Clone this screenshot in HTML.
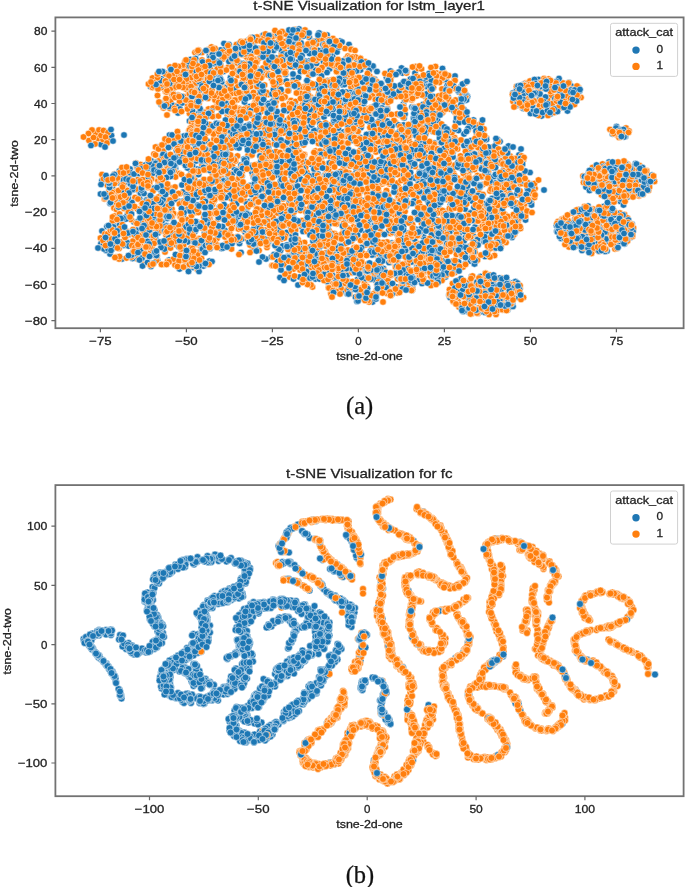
<!DOCTYPE html>
<html><head><meta charset="utf-8"><title>t-SNE</title>
<style>
html,body{margin:0;padding:0;background:#fff}
svg{display:block}
text{font-family:"Liberation Sans",sans-serif;fill:#222;stroke:#222;stroke-width:.3px}
.tk{font-size:11.8px}
.lb{font-size:11.8px}
.tt{font-size:13.6px}
.cap{font-family:"Liberation Serif",serif;font-size:24.5px;fill:#111;stroke:#111;stroke-width:.25px}
polyline{fill:none;stroke:none}
.b{marker-start:url(#mb);marker-mid:url(#mb);marker-end:url(#mb)}
.o{marker-start:url(#mo);marker-mid:url(#mo);marker-end:url(#mo)}
.p{marker-start:url(#nb);marker-mid:url(#nb);marker-end:url(#nb)}
.q{marker-start:url(#no);marker-mid:url(#no);marker-end:url(#no)}
</style></head><body>
<svg width="685" height="887" viewBox="0 0 685 887">
<defs>
<filter id="bl" x="0" y="0" width="685" height="887" filterUnits="userSpaceOnUse"><feGaussianBlur stdDeviation="0.4"/></filter>
<filter id="nf" x="0" y="0" width="685" height="887" filterUnits="userSpaceOnUse"><feOffset dx="0" dy="0"/></filter>
<marker id="mb" markerUnits="userSpaceOnUse" markerWidth="20" markerHeight="20" refX="10" refY="10"><circle cx="10" cy="10" r="6.65" fill="#1f77b4" stroke="#fff" stroke-width="1.1"/></marker>
<marker id="mo" markerUnits="userSpaceOnUse" markerWidth="20" markerHeight="20" refX="10" refY="10"><circle cx="10" cy="10" r="6.65" fill="#ff7f0e" stroke="#fff" stroke-width="1.1"/></marker>
<marker id="nb" markerUnits="userSpaceOnUse" markerWidth="20" markerHeight="20" refX="10" refY="10"><circle cx="10" cy="10" r="6.9" fill="#1f77b4" stroke="#fff" stroke-width="1.0"/></marker>
<marker id="no" markerUnits="userSpaceOnUse" markerWidth="20" markerHeight="20" refX="10" refY="10"><circle cx="10" cy="10" r="6.9" fill="#ff7f0e" stroke="#fff" stroke-width="1.0"/></marker>
<clipPath id="c1"><rect x="55.4" y="17.4" width="628.2" height="310.8"/></clipPath>
<clipPath id="c2"><rect x="55.4" y="485.1" width="628.2" height="311.1"/></clipPath>
</defs>
<rect width="685" height="887" fill="#fff"/>
<g clip-path="url(#c1)" filter="url(#bl)"><g transform="scale(.5)">
<polyline class="b" points="1037,595 500,371 805,146 596,124 390,125"/>
<polyline class="o" points="826,524 584,509 484,345 463,296 417,218"/>
<polyline class="o" points="937,427 659,312 823,200"/>
<polyline class="b" points="386,535 816,565 745,322 452,303 891,554 781,161 659,138"/>
<polyline class="b" points="1225,268 315,521 784,486 301,173 932,296 571,149"/>
<polyline class="o" points="342,198 953,266 779,368 642,212"/>
<polyline class="o" points="862,564 340,217 765,511 749,380 331,183"/>
<polyline class="b" points="276,362 583,352 713,118 1101,228 912,495"/>
<polyline class="b" points="1241,403 898,590 379,242 479,136 395,394 879,258 819,272 698,89"/>
<polyline class="o" points="620,175 672,562"/>
<polyline class="o" points="704,546 462,397 413,305 609,419 530,145"/>
<polyline class="b" points="1018,457 391,292 367,432 338,520 202,289"/>
<polyline class="b" points="629,261 549,339 326,207 526,278"/>
<polyline class="o" points="509,84 404,105 780,525 889,463 838,346 977,342"/>
<polyline class="o" points="270,395 808,493 1010,429 985,469 518,501 1084,176 384,531"/>
<polyline class="b" points="524,151 1134,167 970,513"/>
<polyline class="b" points="918,184 443,497 554,442"/>
<polyline class="o" points="566,530 489,402 1235,391 443,356 368,327 729,566 974,364"/>
<polyline class="o" points="597,266 1220,399 1162,195 1167,354 443,346 784,546"/>
<polyline class="b" points="674,104 1007,341 639,260 831,458"/>
<polyline class="b" points="915,437 935,193 849,313"/>
<polyline class="o" points="438,247 718,559 635,240 509,409 614,345 893,550 245,468"/>
<polyline class="o" points="1021,437 462,125 620,415 647,98 587,538"/>
<polyline class="b" points="806,511 628,261 813,369 807,208 559,441"/>
<polyline class="b" points="524,138 319,378 725,401 257,470 533,419 314,294"/>
<polyline class="o" points="735,268 708,495 1008,366 733,548"/>
<polyline class="o" points="344,418 665,568"/>
<polyline class="b" points="1086,229 368,367 767,537 821,540 888,353 818,574 524,271 261,419"/>
<polyline class="b" points="793,574 537,484 778,525 1214,502"/>
<polyline class="o" points="533,274 1096,231 349,219 692,117 721,481 957,616"/>
<polyline class="o" points="956,627 667,234 850,193 731,490 877,410 884,161 1220,259"/>
<polyline class="b" points="874,457 426,233 600,214"/>
<polyline class="b" points="330,146 636,348 1035,459 967,407 683,201 818,466"/>
<polyline class="o" points="375,384 696,112 747,552 332,488"/>
<polyline class="o" points="833,261 579,554 432,129 476,151 526,136"/>
<polyline class="b" points="268,444 346,216 1242,398 688,209 1144,446"/>
<polyline class="b" points="654,145 489,168 667,394 571,222 247,491"/>
<polyline class="o" points="299,320 1003,556 774,587 1249,367 953,522"/>
<polyline class="o" points="441,328 917,322 812,163 787,581 662,585 861,452"/>
<polyline class="b" points="830,146 460,322 364,370 894,172"/>
<polyline class="b" points="461,274 918,468 671,491 723,495"/>
<polyline class="o" points="856,403 501,173 510,205 619,374 382,496 818,282"/>
<polyline class="o" points="1246,369 776,388 506,500 955,351 1013,383"/>
<polyline class="b" points="1009,372 239,366 447,143 393,383 532,518"/>
<polyline class="b" points="855,457 781,401"/>
<polyline class="o" points="789,430 714,286 667,287 629,269 599,176 899,218 702,98 410,224"/>
<polyline class="o" points="563,108 332,199 281,491 390,105 269,375 598,302"/>
<polyline class="b" points="930,201 631,558 356,226 347,400"/>
<polyline class="b" points="375,418 917,524 819,363"/>
<polyline class="o" points="1157,175 909,160 781,521 372,178 465,332 341,203 662,477"/>
<polyline class="o" points="586,150 238,497 937,351"/>
<polyline class="b" points="933,191 834,269 756,337 808,236 749,492 549,348 912,243"/>
<polyline class="b" points="921,198 910,152 334,335"/>
<polyline class="o" points="562,430 479,217 593,300 234,394 718,447 565,139 789,378"/>
<polyline class="o" points="636,216 871,133 339,375 567,266 455,231"/>
<polyline class="b" points="547,376 385,285 500,430 1019,376 665,574"/>
<polyline class="b" points="595,105 1249,488 451,98 890,423"/>
<polyline class="o" points="473,339 376,439 353,490 379,227 930,166 420,437"/>
<polyline class="o" points="905,308 790,424 536,285 1029,441 284,407 1003,322 717,411 690,97 350,530 234,362"/>
<polyline class="b" points="204,462 389,172 1025,566"/>
<polyline class="o" points="1026,203 674,144 416,386 579,284 862,461 1255,328 657,279"/>
<polyline class="o" points="1309,363 1167,365 1018,408 896,310 178,281 722,138 395,489 717,117 537,290"/>
<polyline class="b" points="749,259 749,259"/>
<polyline class="b" points="746,134 204,361 940,492 711,594"/>
<polyline class="o" points="474,110 496,311 1045,216 673,178 779,273 618,560"/>
<polyline class="o" points="1252,256 366,417 1063,405 430,397 835,359"/>
<polyline class="b" points="1000,357 866,473 351,337 639,558 854,194"/>
<polyline class="b" points="588,252 847,474 640,158 879,485 847,545"/>
<polyline class="o" points="725,134 988,457 287,529 609,309 656,216"/>
<polyline class="o" points="1230,498 795,431 428,402 621,194 734,308 796,472"/>
<polyline class="b" points="390,352 913,236 718,448 736,350"/>
<polyline class="b" points="420,497 420,497"/>
<polyline class="o" points="956,375 534,495 1016,448 784,181 603,187 622,535 947,461 877,482 941,341"/>
<polyline class="o" points="781,467 621,144 949,498 609,485 972,578"/>
<polyline class="b" points="584,469 851,164 264,405 821,158 535,134"/>
<polyline class="b" points="500,213 443,162 473,220 482,330"/>
<polyline class="o" points="505,348 315,149 831,133 834,274 418,436 360,433"/>
<polyline class="o" points="1033,179 1046,350 450,265 512,391"/>
<polyline class="b" points="671,565 750,560 1159,182 1217,483 279,397 1026,186"/>
<polyline class="b" points="402,194 900,595 500,403 773,155 474,341 574,285 823,524 877,383"/>
<polyline class="o" points="665,574 861,552"/>
<polyline class="o" points="468,211 476,360 401,492"/>
<polyline class="b" points="961,553 687,264 818,476 543,514 1150,453 1264,448 511,498"/>
<polyline class="b" points="922,173 692,202 846,209 1015,620"/>
<polyline class="o" points="398,346 537,189 651,204 966,369 473,343 511,133"/>
<polyline class="o" points="569,390 607,495 776,433 563,164 907,347 775,217"/>
<polyline class="b" points="1135,222 431,102 220,407 537,297"/>
<polyline class="b" points="1038,310 650,350 948,473"/>
<polyline class="o" points="662,588 475,473 408,435 616,560 335,523 692,273 484,376"/>
<polyline class="o" points="801,560 201,476 851,301 590,59 604,412"/>
<polyline class="b" points="509,287 490,464 754,527 590,212 239,342"/>
<polyline class="b" points="921,336 643,324 683,212"/>
<polyline class="o" points="221,277 916,431 485,459 1070,377 954,476 887,144 915,356"/>
<polyline class="o" points="1040,577 625,574 619,76 552,414"/>
<polyline class="b" points="600,512 673,363 735,528 768,191 733,357 1077,159"/>
<polyline class="b" points="621,328 866,193 574,241 350,329"/>
<polyline class="o" points="425,409 299,465 249,377 669,467 356,190 406,398"/>
<polyline class="o" points="523,398 260,351 457,166 1026,366 1124,438 841,389"/>
<polyline class="b" points="672,554 1261,475 273,466 695,588"/>
<polyline class="b" points="676,315 596,570 1172,374 1194,359 933,200 382,346"/>
<polyline class="o" points="725,506 764,368 655,161 566,493"/>
<polyline class="o" points="831,483 795,558 736,172 619,551 653,183 862,571 1045,329 389,360 830,333"/>
<polyline class="b" points="311,477 311,477"/>
<polyline class="b" points="1083,232 908,433 451,315"/>
<polyline class="o" points="1036,390 911,501 796,371 886,224 636,192 359,347 228,416"/>
<polyline class="o" points="1034,338 443,135 923,478 408,359 305,156 475,312"/>
<polyline class="b" points="257,464 470,178 920,369 317,441"/>
<polyline class="b" points="853,315 613,101 702,579"/>
<polyline class="o" points="374,138 835,317 568,246 1015,299 686,339 884,226 879,419"/>
<polyline class="o" points="880,474 927,347 272,326 210,468 768,365"/>
<polyline class="b" points="838,470 633,379 220,508 448,87 603,453"/>
<polyline class="b" points="633,234 664,549 1011,315 686,170"/>
<polyline class="o" points="906,522 576,259 857,156 417,232 582,201 805,213"/>
<polyline class="o" points="626,243 802,572 658,461 476,171 434,207"/>
<polyline class="b" points="494,408 853,188 888,544 908,396 814,409"/>
<polyline class="b" points="411,403 850,479 691,440 375,336 694,550"/>
<polyline class="o" points="664,446 458,332 1126,166 665,467 340,134"/>
<polyline class="o" points="578,543 460,386 682,218 718,396"/>
<polyline class="b" points="829,478 510,131 592,507 504,344 226,450 1077,166"/>
<polyline class="b" points="1017,616 637,145 507,354 505,374 633,127 259,465"/>
<polyline class="o" points="774,197 426,216 548,385 989,497"/>
<polyline class="o" points="333,200 854,501 218,382 796,525 1012,485 586,509"/>
<polyline class="b" points="696,221 1304,350 749,450 718,583"/>
<polyline class="b" points="985,449 1013,335 366,384 359,403 689,169 499,249 423,298"/>
<polyline class="o" points="1166,352 440,146 261,418"/>
<polyline class="o" points="910,225 917,560 424,405 537,147 702,99"/>
<polyline class="b" points="1114,462 620,529 400,180 381,119 605,92"/>
<polyline class="b" points="641,142 745,604 662,297 822,323 803,136 894,546"/>
<polyline class="o" points="337,400 633,88 276,398 362,405"/>
<polyline class="o" points="217,387 632,139 579,236 898,372 566,398 388,168 1116,443 822,198 1258,262 909,360"/>
<polyline class="b" points="239,450 896,167 844,567"/>
<polyline class="o" points="702,174 1048,414 786,146 475,122 524,72 557,169 955,477"/>
<polyline class="o" points="309,456 1033,351 502,311 383,244"/>
<polyline class="b" points="714,413 752,598 1198,448 619,196 1169,353 461,161"/>
<polyline class="b" points="285,532 620,556"/>
<polyline class="o" points="919,460 925,172 383,431 960,456 760,267 1051,166 321,319 673,446"/>
<polyline class="o" points="814,143 642,140 788,418 887,431 704,442 570,450 930,358 798,337"/>
<polyline class="b" points="419,522 356,192"/>
<polyline class="b" points="1164,501 623,96"/>
<polyline class="o" points="962,302 881,449 603,213 234,407 658,186 425,348 865,144 959,386"/>
<polyline class="o" points="930,586 465,452 554,426 692,539 444,118 845,265 671,127 782,551"/>
<polyline class="b" points="354,319 944,402"/>
<polyline class="b" points="749,440 385,222"/>
<polyline class="o" points="813,525 791,534 980,382 504,310 916,603 691,487 510,104 823,503"/>
<polyline class="o" points="620,404 1067,185 233,475 901,265 257,414"/>
<polyline class="b" points="424,161 638,502 1047,188 554,131 606,463"/>
<polyline class="b" points="635,499 637,101 792,315 696,119"/>
<polyline class="o" points="1240,426 800,319 748,510 512,285 838,212 1026,393"/>
<polyline class="o" points="1166,496 439,324 385,482 367,408"/>
<polyline class="b" points="824,214 456,93 832,271 1171,472 215,392 796,395"/>
<polyline class="b" points="1299,352 667,309 303,322 552,116"/>
<polyline class="o" points="559,505 392,425 344,189 618,151 546,404 1267,456"/>
<polyline class="o" points="741,319 750,198 913,509 726,342 494,477 775,202"/>
<polyline class="b" points="349,337 506,498 834,532 1054,167"/>
<polyline class="b" points="469,340 347,211 563,100 448,435 460,390 1060,345"/>
<polyline class="o" points="502,75 378,261 1236,459 774,484"/>
<polyline class="o" points="408,225 375,210 777,365 833,153 415,228 485,164 479,137"/>
<polyline class="b" points="375,330 514,292 1150,438"/>
<polyline class="b" points="906,314 573,162 748,508 399,365 789,172 680,269 1284,335"/>
<polyline class="o" points="415,415 889,331 885,206"/>
<polyline class="o" points="696,286 388,250 328,343 877,458 836,137 1017,442 671,413"/>
<polyline class="b" points="786,284 447,269 969,312"/>
<polyline class="b" points="509,254 317,365 455,287"/>
<polyline class="o" points="643,325 308,308 549,288 262,439 300,470 728,353 614,463"/>
<polyline class="o" points="563,232 546,435 820,567 1234,270 936,260 596,479 704,545"/>
<polyline class="b" points="368,272 479,487 328,306"/>
<polyline class="b" points="373,390 494,291 479,248 1271,327 419,110 398,226"/>
<polyline class="o" points="493,114 552,303 485,110 823,288"/>
<polyline class="o" points="445,118 537,301 506,492 695,410 771,555 404,330 712,500"/>
<polyline class="b" points="282,420 593,89 1034,387"/>
<polyline class="b" points="973,462 302,533"/>
<polyline class="o" points="628,99 915,489 223,381 1239,393 393,505 945,305 1040,211 740,559"/>
<polyline class="o" points="651,506 697,154 779,507 248,417"/>
<polyline class="b" points="1051,440 642,204 447,361 202,487 498,331 430,364"/>
<polyline class="b" points="467,401 663,315 440,156 1048,199 207,489 1077,200 507,85"/>
<polyline class="o" points="754,569 272,445 835,527"/>
<polyline class="o" points="672,134 700,332 578,407 457,134 474,200 797,395"/>
<polyline class="b" points="614,276 518,97 960,370 680,269"/>
<polyline class="b" points="937,397 489,458 443,165 593,81"/>
<polyline class="o" points="558,410 381,256 1034,208 336,333 737,232 962,397"/>
<polyline class="o" points="1205,456 1014,619 632,121 860,296"/>
<polyline class="b" points="993,430 295,525 407,532 383,410 678,157 850,170"/>
<polyline class="b" points="406,491 550,72 678,436 520,180 1025,608"/>
<polyline class="o" points="348,314 587,291 435,205 809,199 924,512"/>
<polyline class="o" points="372,452 708,512 885,421 637,479 758,320 1051,432"/>
<polyline class="b" points="244,518 575,222 656,270 1041,316"/>
<polyline class="b" points="999,309 1113,451 783,193 963,623 824,581 746,132"/>
<polyline class="o" points="765,192 295,466 385,354 910,161"/>
<polyline class="o" points="979,476 672,187 976,344 1215,451 670,408 385,390"/>
<polyline class="b" points="788,314 964,335 606,316 963,354"/>
<polyline class="b" points="624,374 798,144 316,466 441,130"/>
<polyline class="o" points="926,443 423,108 738,556 943,628 957,616 638,512"/>
<polyline class="o" points="1198,503 1237,381 536,110 1042,390 1279,331 898,183"/>
<polyline class="b" points="1177,348 968,413 553,86 1240,372"/>
<polyline class="b" points="892,456 225,373 805,528 599,489"/>
<polyline class="o" points="419,375 837,471 839,488 535,423 1043,312 892,493"/>
<polyline class="o" points="509,137 642,536 379,260 377,189 1185,335 554,172 209,398"/>
<polyline class="b" points="781,590 407,483 1172,477"/>
<polyline class="b" points="649,437 1038,318 336,354 618,122 450,461"/>
<polyline class="o" points="473,89 537,479 1198,372 312,164 549,71"/>
<polyline class="o" points="657,575 833,192 393,488 335,338 313,521 383,351 645,69 852,206"/>
<polyline class="b" points="420,116 345,451"/>
<polyline class="b" points="708,184 979,367 745,388 1061,403"/>
<polyline class="o" points="1077,179 296,375 892,321 542,131 1003,422 517,234"/>
<polyline class="o" points="275,418 477,371 636,79 196,277 356,153"/>
<polyline class="b" points="598,58 756,506 374,271 969,596 587,160"/>
<polyline class="b" points="680,355 978,454 881,371 976,350 626,105"/>
<polyline class="o" points="281,329 1168,494 776,561 266,504 848,487"/>
<polyline class="o" points="893,399 878,218 530,365 520,299 725,597 1109,201"/>
<polyline class="b" points="423,223 338,213 742,558 997,436"/>
<polyline class="b" points="217,474 1248,449 794,532 560,555 834,186"/>
<polyline class="o" points="775,221 584,166 809,198 734,573 450,262"/>
<polyline class="o" points="514,74 624,529 544,83 361,147 377,164 471,322 480,264"/>
<polyline class="b" points="898,428 595,174 694,581"/>
<polyline class="b" points="714,603 1233,253 778,461"/>
<polyline class="o" points="699,347 785,465 719,221 519,116 274,334 787,488 847,556"/>
<polyline class="o" points="600,540 744,457 1014,439 553,395 1297,381"/>
<polyline class="b" points="968,483 591,216 561,501 660,469 658,128"/>
<polyline class="b" points="740,268 246,374 835,438 400,288 539,340"/>
<polyline class="o" points="823,474 720,116 511,205 606,207 978,499"/>
<polyline class="o" points="861,319 572,419 791,245 752,372 554,495"/>
<polyline class="b" points="648,234 875,241 278,382 548,199 1202,369"/>
<polyline class="b" points="1013,450 955,479 825,576 689,331 749,158 504,331 860,333"/>
<polyline class="o" points="1299,374 518,273 570,259"/>
<polyline class="o" points="759,181 570,548 1019,568 1006,390 677,204 678,435 636,486 629,348"/>
<polyline class="b" points="575,513 821,324"/>
<polyline class="b" points="394,444 759,297 1217,390"/>
<polyline class="o" points="758,508 559,268 680,401 578,248 625,373 607,290 584,293"/>
<polyline class="o" points="1058,195 747,343 1165,429"/>
<polyline class="b" points="1247,410 906,304 1014,561 654,70 906,458 1118,157 1031,563"/>
<polyline class="b" points="794,467 754,179"/>
<polyline class="o" points="971,328 354,212 999,326 300,363 879,456 716,220 453,486 416,197"/>
<polyline class="o" points="375,376 1220,479 888,256 340,294 1051,368 962,353 628,175"/>
<polyline class="b" points="508,236 652,300 715,559"/>
<polyline class="b" points="665,113 737,375 733,269"/>
<polyline class="o" points="416,439 898,326 883,248 523,431 540,271 367,193 377,468"/>
<polyline class="o" points="1291,351 374,170 763,170 1019,360 323,175"/>
<polyline class="b" points="694,207 825,505 821,388 721,367 1063,368"/>
<polyline class="b" points="401,222 504,266 730,450"/>
<polyline class="o" points="787,150 1123,215 1138,494 395,539 317,394 1205,328 997,464"/>
<polyline class="o" points="777,570 457,114 229,367 704,440 558,377 509,118 662,554"/>
<polyline class="b" points="212,501 771,335 624,171"/>
<polyline class="b" points="547,101 901,409 1031,212"/>
<polyline class="o" points="463,270 720,592 786,447 1157,467 886,160 936,337 622,570"/>
<polyline class="o" points="614,94 906,336 257,469 492,216 579,207 1002,494"/>
<polyline class="b" points="787,489 736,230 1024,475 602,86"/>
<polyline class="b" points="760,239 594,290 281,386 616,498"/>
<polyline class="o" points="365,325 993,452 454,487 773,381 797,393 242,484"/>
<polyline class="o" points="897,296 191,266 710,101 785,507 502,336"/>
<polyline class="b" points="947,359 365,313 827,245 791,292 579,400"/>
<polyline class="b" points="1138,165 502,89 1252,327 307,397"/>
<polyline class="o" points="338,403 1047,319 899,590 628,326 311,310 990,384"/>
<polyline class="o" points="593,274 798,230 515,417 408,192 347,518 632,302 666,131 712,494"/>
<polyline class="b" points="1011,595 1028,569"/>
<polyline class="b" points="394,338 744,510 244,370 928,219 367,402"/>
<polyline class="o" points="436,438 950,569 678,544 822,491 830,181"/>
<polyline class="o" points="187,275 1097,158 910,330 1289,348 487,187"/>
<polyline class="b" points="830,313 514,220 638,66 502,102 802,230"/>
<polyline class="b" points="863,161 936,446 1008,575 1181,438"/>
<polyline class="o" points="910,545 996,310 404,120 488,195 821,186 949,571"/>
<polyline class="o" points="554,465 757,384 1293,341 1055,166 403,500"/>
<polyline class="b" points="532,221 512,423 1142,172 1207,366 288,387"/>
<polyline class="b" points="678,501 555,523 740,543"/>
<polyline class="o" points="451,280 1041,368 1165,442 653,341 591,203 345,182 766,604"/>
<polyline class="o" points="995,476 875,228"/>
<polyline class="b" points="1047,169 1257,448 584,86 1171,364 1017,601 1266,463 505,162 1142,211"/>
<polyline class="b" points="774,242 255,429 798,554 1046,204 214,453 435,123"/>
<polyline class="o" points="770,147 687,462 215,468 781,419"/>
<polyline class="o" points="548,333 800,179 750,430 250,351"/>
<polyline class="b" points="447,362 441,100 975,509 429,148 637,471 907,401"/>
<polyline class="b" points="364,429 412,190 575,221"/>
<polyline class="o" points="232,514 500,257 897,207 521,176 850,293 493,184 887,444"/>
<polyline class="o" points="1130,489 472,144 953,626 314,456 396,188 978,629 466,231 366,303"/>
<polyline class="b" points="1114,463 700,185"/>
<polyline class="b" points="687,553 931,475 785,567 722,255 244,382"/>
<polyline class="o" points="376,149 847,545 299,368 950,619 1142,178"/>
<polyline class="o" points="1242,369 915,446 856,370"/>
<polyline class="b" points="420,415 990,325 1270,359 397,105 260,338 1255,394 682,567"/>
<polyline class="b" points="812,399 685,286 712,346 414,443 1026,412"/>
<polyline class="o" points="584,364 398,206 522,420 629,534 915,298"/>
<polyline class="o" points="646,433 982,496 324,493 461,448 614,142 782,281"/>
<polyline class="b" points="1165,473 625,208 565,492 765,322"/>
<polyline class="b" points="1270,331 361,320 580,400"/>
<polyline class="o" points="623,204 374,476 369,406 486,153 742,182 833,395 398,477"/>
<polyline class="o" points="397,348 699,537 913,289 1231,391"/>
<polyline class="b" points="722,382 665,505 1122,477 635,317 1251,273 829,356"/>
<polyline class="b" points="750,501 305,347 780,287"/>
<polyline class="o" points="1170,462 305,175 526,216 1028,374 389,160 311,404 1175,496"/>
<polyline class="o" points="793,498 845,388 524,153 457,447 782,591 301,500 1020,312"/>
<polyline class="b" points="851,377 550,351 431,450"/>
<polyline class="b" points="828,402 738,423 399,232 769,326"/>
<polyline class="o" points="297,168 498,271 586,361 231,398 463,498 937,599"/>
<polyline class="o" points="682,273 786,404 827,312"/>
<polyline class="b" points="643,152 842,219 414,282 1207,333 963,338 611,324 1227,421"/>
<polyline class="b" points="919,240 716,602 789,336 521,109 969,479"/>
<polyline class="o" points="483,446 1005,426 482,196 535,435 623,453"/>
<polyline class="o" points="509,120 970,281 480,340 350,374 1083,165 437,364 695,513 332,197"/>
<polyline class="b" points="684,538 730,173"/>
<polyline class="b" points="584,298 324,444 740,245"/>
<polyline class="o" points="973,417 530,258 501,463 660,250 609,204 1230,368 396,194"/>
<polyline class="o" points="229,432 345,383 730,123 612,403 562,72"/>
<polyline class="b" points="591,259 475,384 1014,615 527,70 1139,450"/>
<polyline class="b" points="225,497 225,497"/>
<polyline class="o" points="599,305 761,302 400,503 862,354 797,385 461,347 556,268 1009,333 688,338"/>
<polyline class="o" points="535,442 443,436 325,394 543,157 950,485 817,577"/>
<polyline class="b" points="497,190 402,167 715,212 762,236"/>
<polyline class="b" points="943,553 736,402 1047,217 760,492 553,279 1186,360"/>
<polyline class="o" points="910,214 909,177 380,155 1007,445"/>
<polyline class="o" points="907,604 536,150 763,364 901,366 276,359 652,425 572,429 775,277"/>
<polyline class="b" points="537,361 483,478"/>
<polyline class="b" points="699,423 759,551 631,108"/>
<polyline class="o" points="651,351 516,190 792,380 857,446 1286,389 287,436 681,420"/>
<polyline class="o" points="684,285 524,338 1249,429 646,80 235,358"/>
<polyline class="b" points="568,561 259,486 1035,566 561,362 617,230"/>
<polyline class="b" points="853,245 983,486 432,357"/>
<polyline class="o" points="924,188 733,358 220,376 348,342 1136,441 721,300 399,303"/>
<polyline class="o" points="716,263 627,492 346,338 1139,199"/>
<polyline class="b" points="760,339 685,356 701,190 930,418 395,446 509,345"/>
<polyline class="b" points="837,533 837,533"/>
<polyline class="o" points="887,439 570,131 973,276 514,329 375,536 687,339 749,456 232,383 641,434"/>
<polyline class="o" points="198,496 362,535 839,466 706,303 877,192"/>
<polyline class="b" points="350,398 1218,408 871,237 421,258 677,125"/>
<polyline class="b" points="571,364 461,262 380,422 308,510 628,338 409,466"/>
<polyline class="o" points="551,241 275,518 285,471 713,248"/>
<polyline class="o" points="749,292 493,182 1065,381 912,607 471,142"/>
<polyline class="b" points="482,505 706,281 705,261 531,446 626,445"/>
<polyline class="b" points="1296,359 307,433 700,510 356,272"/>
<polyline class="o" points="330,504 697,506 563,478 874,342 805,570 204,349"/>
<polyline class="o" points="425,296 1016,389 969,555 651,492 734,387"/>
<polyline class="b" points="947,390 541,151 886,498 538,415 1045,328"/>
<polyline class="b" points="1040,210 544,204 456,350 754,586 954,564"/>
<polyline class="o" points="383,263 610,60 664,179 418,328 753,163"/>
<polyline class="o" points="616,204 233,419 895,461 316,361 362,149"/>
<polyline class="b" points="561,423 680,471 729,417 1179,381 291,330"/>
<polyline class="b" points="1234,427 266,380 1002,580 760,277 1238,259"/>
<polyline class="o" points="836,317 560,305 633,459 526,300 1022,461"/>
<polyline class="o" points="926,361 404,456 906,602 825,449 568,528 615,138"/>
<polyline class="b" points="587,436 591,440 674,497 544,393"/>
<polyline class="b" points="558,461 728,297 1183,376 590,110 937,624 984,397 588,443 751,246"/>
<polyline class="o" points="976,322 825,579"/>
<polyline class="o" points="694,580 953,250 527,391 788,500 855,201 761,526"/>
<polyline class="b" points="741,594 996,284 931,527 885,137"/>
<polyline class="o" points="830,426 962,559 1088,157 909,351 370,123 1182,447 968,258 655,286 860,545 765,467"/>
<polyline class="o" points="326,407 347,176 720,550 813,146 332,470"/>
<polyline class="b" points="628,147 520,312 442,369 558,498 687,314"/>
<polyline class="b" points="325,314 928,291 816,476 441,159 711,244 1234,455 493,417"/>
<polyline class="o" points="1033,173 825,310 1200,358"/>
<polyline class="o" points="966,389 635,495 295,443 781,441 753,443 280,444"/>
<polyline class="b" points="682,584 410,528 801,549 631,141"/>
<polyline class="b" points="573,465 375,393 993,282 528,477 861,255"/>
<polyline class="o" points="493,425 913,468 724,449 580,235 707,454"/>
<polyline class="o" points="419,249 356,307 903,407 599,486 737,217 752,583 409,260 587,134"/>
<polyline class="b" points="1058,207 410,439"/>
<polyline class="b" points="661,109 1178,343 294,483"/>
<polyline class="o" points="843,138 415,150 612,505 673,471 752,304 779,318 1033,201"/>
<polyline class="o" points="757,360 413,266 631,302 381,410 1180,368 409,457 830,162"/>
<polyline class="b" points="549,277 692,191 661,196"/>
<polyline class="b" points="930,390 1021,599 699,424"/>
<polyline class="o" points="533,185 673,448 567,211 206,279 728,407 184,260 960,312"/>
<polyline class="o" points="1175,428 911,200 345,346 363,448 800,399 608,380 1188,500 645,448"/>
<polyline class="b" points="882,342 646,89"/>
<polyline class="b" points="568,284 614,162"/>
<polyline class="o" points="342,176 686,147 674,254 1257,390 510,288 785,583 386,176 511,97"/>
<polyline class="o" points="241,406 703,482 1212,357 909,275 350,467 266,482 754,579 707,542 507,185"/>
<polyline class="b" points="500,112 500,112"/>
<polyline class="b" points="525,206 424,523 559,534 988,336 987,568 941,425"/>
<polyline class="o" points="1259,462 708,170 514,101 366,152"/>
<polyline class="o" points="648,486 604,450 608,496 884,178"/>
<polyline class="b" points="272,460 827,236 892,159 703,263 384,401 618,74"/>
<polyline class="b" points="1223,417 1209,442 480,229 918,485 812,413"/>
<polyline class="o" points="567,412 865,334 958,576 558,155 776,160"/>
<polyline class="o" points="576,80 905,567 242,354 403,517 508,235 633,373"/>
<polyline class="b" points="770,423 1061,227 406,526 726,182"/>
<polyline class="b" points="991,366 1196,382 445,314"/>
<polyline class="o" points="894,357 886,552 331,148 557,385 384,142 1206,441 875,396"/>
<polyline class="o" points="508,353 445,104 681,343 890,366 773,548"/>
<polyline class="b" points="721,140 485,331 658,262 508,489 658,448"/>
<polyline class="b" points="779,228 677,523 735,577"/>
<polyline class="o" points="607,309 486,256 840,155 324,290 746,421 1272,365 783,260"/>
<polyline class="o" points="347,168 682,576 472,400 408,229 1227,381"/>
<polyline class="b" points="398,543 784,252 746,411 799,426 946,578"/>
<polyline class="b" points="445,386 481,97 628,199 581,421 729,228"/>
<polyline class="o" points="634,230 206,481 732,165 939,564 846,562"/>
<polyline class="o" points="782,322 870,494 743,421 339,340"/>
<polyline class="b" points="836,354 1195,448 307,526 942,281 322,171 698,504"/>
<polyline class="b" points="875,440 510,355 586,107 769,248 835,224"/>
<polyline class="o" points="713,181 573,442 815,530 1077,231 1223,396"/>
<polyline class="o" points="207,358 414,368 430,142 552,203 1222,438 519,443 415,310"/>
<polyline class="b" points="863,470 735,132 647,123"/>
<polyline class="b" points="630,117 774,512 534,270 703,200"/>
<polyline class="o" points="758,388 868,204 816,469 858,355 303,358 915,286"/>
<polyline class="o" points="723,404 710,206 363,349 450,372 477,458 324,462 845,323"/>
<polyline class="b" points="634,519 398,532 1176,496"/>
<polyline class="b" points="375,484 201,388 247,360 1283,360 630,522 956,391 277,335"/>
<polyline class="o" points="918,614 679,413 640,168"/>
<polyline class="o" points="1047,595 1012,438 611,393 225,442 583,277 1209,457 291,510"/>
<polyline class="b" points="856,175 252,364 986,378"/>
<polyline class="b" points="585,429 372,529 681,491 835,409"/>
<polyline class="o" points="464,238 597,353 952,328 735,508 1027,569 783,152"/>
<polyline class="o" points="1060,162 1228,486 904,265 725,237 707,156"/>
<polyline class="b" points="323,158 699,191 935,288 382,214 814,258"/>
<polyline class="b" points="1036,172 928,482 812,142 884,550"/>
<polyline class="o" points="536,212 1156,194 1012,559 1007,375 904,440 634,403"/>
<polyline class="o" points="394,480 950,505 383,155 366,465 328,462 867,483"/>
<polyline class="b" points="1045,398 738,141 1000,283 1142,180"/>
<polyline class="b" points="969,421 784,355 770,272 957,622"/>
<polyline class="o" points="438,174 636,453 391,529 794,494 620,166 693,214"/>
<polyline class="o" points="502,113 383,266 541,326 604,441 257,424 420,264 933,408"/>
<polyline class="b" points="994,573 478,481 927,200"/>
<polyline class="b" points="1001,301 589,283 898,339 265,517 787,519 856,380"/>
<polyline class="o" points="1044,367 850,240 783,520 839,132"/>
<polyline class="o" points="435,137 517,254 310,406 911,476 347,427 394,486"/>
<polyline class="b" points="393,389 394,260 755,222 626,467"/>
<polyline class="b" points="368,425 1005,357 588,297"/>
<polyline class="o" points="893,497 637,287 450,474 738,604 859,477 572,298 957,254"/>
<polyline class="o" points="829,165 961,410 941,301 402,198 797,537 530,460 838,405 841,179 500,119"/>
<polyline class="b" points="855,341 855,341"/>
<polyline class="b" points="710,187 266,505 663,500 750,169"/>
<polyline class="o" points="823,581 989,511 601,421 455,254 314,512 597,447"/>
<polyline class="o" points="711,114 874,508 1038,184"/>
<polyline class="b" points="820,355 984,569 390,463 995,279 1087,174 888,297 855,173"/>
<polyline class="b" points="496,81 697,563 1229,363 1193,330 840,286 400,339 946,252"/>
<polyline class="o" points="638,186 305,453 297,371"/>
<polyline class="o" points="333,184 929,379 420,137 941,475 570,104 876,374"/>
<polyline class="b" points="856,401 405,407 405,287 333,451"/>
<polyline class="b" points="642,397 798,548 466,435 928,268 1025,595"/>
<polyline class="o" points="646,425 961,409 360,133 866,419 688,433"/>
<polyline class="o" points="550,212 371,154 1026,360 801,401 395,510 177,267 542,408"/>
<polyline class="b" points="945,339 729,539 731,557"/>
<polyline class="b" points="1075,169 760,559 873,152 1128,476 562,540 1113,163"/>
<polyline class="o" points="308,447 730,404 620,494 467,200"/>
<polyline class="o" points="458,229 410,277 731,542 781,160 928,594 780,512"/>
<polyline class="b" points="879,360 833,286 390,422 960,374"/>
<polyline class="b" points="941,522 611,122 762,550 841,463 960,297"/>
<polyline class="o" points="662,128 852,287 245,449 509,148 692,247"/>
<polyline class="o" points="696,500 1114,447 747,544 931,193 311,427 423,94 236,414"/>
<polyline class="b" points="612,124 433,246 927,493"/>
<polyline class="b" points="535,487 753,544 553,258 574,490 755,205 553,339"/>
<polyline class="o" points="387,375 532,324 779,170 740,255"/>
<polyline class="o" points="340,428 1134,204 304,497 1046,213 794,508 698,346 795,483"/>
<polyline class="b" points="907,403 593,271 810,228"/>
<polyline class="b" points="580,272 353,301 1026,613"/>
<polyline class="o" points="1157,419 382,413 509,241 588,424 874,465 567,83 707,240"/>
<polyline class="o" points="421,102 585,124 515,487 684,219 614,435"/>
<polyline class="b" points="688,163 1059,177 339,270 488,318 314,484"/>
<polyline class="b" points="306,407 602,216 990,313 704,502 503,389 450,175 1115,464 597,155"/>
<polyline class="o" points="290,497 264,512"/>
<polyline class="o" points="891,341 559,165 528,444 632,311 779,583 390,185 520,451"/>
<polyline class="b" points="347,189 364,302 879,464"/>
<polyline class="b" points="208,498 237,414 757,186 869,286"/>
<polyline class="o" points="1216,469 475,106 690,122 307,172 1174,438 468,290"/>
<polyline class="o" points="367,130 526,378 835,523 1030,317 1280,374 423,191"/>
<polyline class="b" points="380,400 657,227 1041,427 625,201"/>
<polyline class="b" points="1306,357 480,86 1001,386 291,429 544,188"/>
<polyline class="o" points="397,233 397,425 577,169 951,356 855,212"/>
<polyline class="o" points="190,288 459,290 350,455 518,190"/>
<polyline class="b" points="661,302 578,92 630,380 466,268 884,521 682,493"/>
<polyline class="b" points="1180,448 542,305 643,548 670,492"/>
<polyline class="o" points="481,219 327,396 845,326 1007,427 912,456 986,294"/>
<polyline class="o" points="699,588 741,477 963,246 358,490 899,579 456,414 472,120 1099,171"/>
<polyline class="b" points="471,269 679,411"/>
<polyline class="b" points="721,128 644,514 930,507 948,283 1176,412 468,318"/>
<polyline class="o" points="808,327 645,327 699,214 572,68"/>
<polyline class="o" points="336,384 480,476 796,450 573,89 374,175"/>
<polyline class="b" points="623,497 321,433 509,367 536,207 782,197"/>
<polyline class="b" points="756,412 1172,487 372,454 1223,448"/>
<polyline class="o" points="744,410 1168,484 334,181 1286,337 807,214 384,509"/>
<polyline class="o" points="748,284 848,386 1214,353 1023,407 528,318 553,276"/>
<polyline class="b" points="1210,503 781,142 1165,421 586,77"/>
<polyline class="b" points="566,108 1022,572 1033,412 313,511"/>
<polyline class="o" points="392,533 441,132 397,100 230,488 373,158 377,133"/>
<polyline class="o" points="474,379 765,299 944,463 340,400 819,271"/>
<polyline class="b" points="807,350 1067,220 351,315 619,107 390,298"/>
<polyline class="b" points="733,318 1070,202 1077,201"/>
<polyline class="o" points="921,506 1293,342 763,405 452,213 653,294 408,167 949,339"/>
<polyline class="o" points="418,529 639,280 460,226 685,413"/>
<polyline class="b" points="213,357 1104,215 567,196 1032,361 845,486 925,592"/>
<polyline class="b" points="464,428 837,368 1170,460 611,126 762,417 841,293 973,279"/>
<polyline class="o" points="1092,168 560,125 439,457"/>
<polyline class="o" points="640,302 718,389 677,534 873,146 957,569 317,322"/>
<polyline class="b" points="693,537 855,566 417,232 483,169"/>
<polyline class="b" points="607,537 857,509 596,442"/>
<polyline class="o" points="633,308 524,475 606,174 1252,484 475,274 1016,433 963,322"/>
<polyline class="o" points="718,537 874,151 970,348 554,276"/>
<polyline class="b" points="679,569 1236,384 594,393 1016,405 1269,333 1005,417"/>
<polyline class="b" points="657,108 585,356 652,451 706,401"/>
<polyline class="o" points="420,289 889,267 657,327 978,322 419,427 793,463"/>
<polyline class="o" points="690,461 598,89 1010,437 544,531 1278,392 500,490 558,419 406,479 708,400"/>
<polyline class="b" points="1064,374 1064,374"/>
<polyline class="b" points="553,96 1078,190 586,209 332,452 1081,173"/>
<polyline class="o" points="1025,189 635,528 1154,473 240,345 669,185"/>
<polyline class="o" points="587,270 687,330 1003,602 609,224 745,192 470,393 607,511"/>
<polyline class="b" points="929,402 739,235 844,505"/>
<polyline class="b" points="665,348 1219,367 854,173 1048,363 391,211 656,511 705,351"/>
<polyline class="o" points="327,216 658,521 999,468"/>
<polyline class="o" points="565,125 1089,170 922,508 706,412"/>
<polyline class="b" points="588,322 1235,443 1187,355 939,596 941,296 772,575"/>
<polyline class="b" points="790,373 448,409 839,384 1234,347 521,484 260,345"/>
<polyline class="o" points="522,156 1279,390 415,158 812,363"/>
<polyline class="o" points="736,601 1013,369 669,572 688,521 240,457 521,98 763,244"/>
<polyline class="b" points="458,123 1023,608 547,179"/>
<polyline class="b" points="397,349 529,464 877,409 483,369 227,454"/>
<polyline class="o" points="519,359 459,167 1033,196 440,271 705,276"/>
<polyline class="o" points="441,383 451,332 545,73 326,302"/>
<polyline class="b" points="235,470 1175,353 937,384 583,480 1012,355 437,435"/>
<polyline class="b" points="371,331 768,204 1247,259 311,325"/>
<polyline class="o" points="893,511 590,130 875,353 550,321 389,344 550,444"/>
<polyline class="o" points="729,220 766,485 770,490 804,390 673,583 660,170 1022,607"/>
<polyline class="b" points="278,347 929,463 473,408"/>
<polyline class="b" points="622,273 1293,374 254,485 843,541 643,407"/>
<polyline class="o" points="937,494 686,419 416,375 522,244 225,385"/>
<polyline class="o" points="914,382 610,138 219,484 357,388 809,504 742,215 880,520"/>
<polyline class="b" points="712,390 445,453 312,376"/>
<polyline class="b" points="1179,449 1071,228 628,553 446,419 820,368 1265,337"/>
<polyline class="o" points="682,478 687,310 238,518 226,462"/>
<polyline class="o" points="1211,372 466,256 624,148 439,392 1008,479 325,168"/>
<polyline class="b" points="404,498 824,256 831,378 956,490"/>
<polyline class="b" points="702,253 872,501 335,437 1119,473 1009,393"/>
<polyline class="o" points="808,528 966,309 1234,497 509,250 730,601"/>
<polyline class="o" points="715,417 498,218 819,520 239,428 495,437 636,527 507,193 893,153 1051,432"/>
<polyline class="b" points="1013,613 1013,613"/>
<polyline class="b" points="835,508 879,276 650,311 694,262"/>
<polyline class="o" points="680,392 789,489 670,447 743,497 774,254 559,79"/>
<polyline class="o" points="332,170 666,396 339,434"/>
<polyline class="b" points="452,395 380,132 1211,431 1136,448 503,405 266,467 680,166"/>
<polyline class="b" points="611,528 627,222 428,304"/>
<polyline class="o" points="622,199 458,426 639,427 784,146 1060,370 496,414 676,427"/>
<polyline class="o" points="272,378 768,263 553,128 392,166 223,389"/>
<polyline class="b" points="928,405 242,405 1031,463 435,330 326,309"/>
<polyline class="b" points="1033,182 493,386 227,495 562,353"/>
<polyline class="o" points="686,501 328,318 246,370 690,144 485,333 810,182"/>
<polyline class="o" points="738,151 1277,349 491,83 611,173 811,186 746,588 401,198"/>
<polyline class="b" points="733,241 1123,443 588,439"/>
<polyline class="b" points="219,373 839,383 950,454 947,605"/>
<polyline class="o" points="668,439 1094,177 549,468 462,347 229,348 528,75"/>
<polyline class="o" points="582,304 599,98 367,493 575,301 215,371 602,329 810,390 1029,468"/>
<polyline class="b" points="444,274 615,182"/>
<polyline class="b" points="777,428 832,510 445,299 608,273 821,332 1007,449"/>
<polyline class="o" points="325,410 817,272 269,413 879,199"/>
<polyline class="o" points="1132,199 887,531 544,478 1079,216 198,260 1212,477 1031,572"/>
<polyline class="b" points="546,369 726,156 925,579"/>
<polyline class="b" points="697,189 664,372 789,374 289,405"/>
<polyline class="o" points="468,481 1157,435 1136,463 514,418 753,403 499,253"/>
<polyline class="o" points="1025,324 567,251 673,386 762,448 688,324"/>
<polyline class="b" points="930,453 359,538 1074,222 654,563 807,250"/>
<polyline class="b" points="357,275 411,195 998,490"/>
<polyline class="o" points="900,358 611,335 531,309 834,312 953,424 538,227 325,529"/>
<polyline class="o" points="402,155 753,275 1257,331 836,433 885,499 638,116 868,288"/>
<polyline class="b" points="459,433 755,267 761,518"/>
<polyline class="b" points="1066,388 1285,335 757,244 720,275 800,283 760,327 970,625"/>
<polyline class="o" points="1255,482 301,530 521,224"/>
<polyline class="o" points="312,415 696,149 442,345 292,450 1132,469 729,178"/>
<polyline class="b" points="578,536 1069,159 846,363 402,155"/>
<polyline class="b" points="1185,488 523,249 990,556 396,410"/>
<polyline class="o" points="365,166 568,131 1037,586 571,143 1198,340 655,79"/>
<polyline class="o" points="1307,352 844,217 358,522 1069,367 658,441 922,362 422,225 525,365"/>
<polyline class="b" points="514,173 1041,435"/>
<polyline class="b" points="867,375 811,501 531,269 904,450 696,256"/>
<polyline class="o" points="979,367 598,102 658,215 919,494 483,109"/>
<polyline class="o" points="1064,387 425,233 795,586 733,164 662,507 501,292 684,468"/>
<polyline class="b" points="780,546 897,456 998,438"/>
<polyline class="b" points="1181,424 1018,356 219,375 675,293 1033,406"/>
<polyline class="o" points="643,409 931,303 760,259 266,459 852,266"/>
<polyline class="o" points="780,427 831,179"/>
<polyline class="b" points="328,454 810,200 681,347 614,515 798,183 516,485 587,558 898,348"/>
<polyline class="b" points="322,426 587,214 494,88 764,216 471,443"/>
<polyline class="o" points="971,546 316,399 608,376 1026,351 348,280"/>
<polyline class="o" points="844,190 1145,426 884,561 1036,443 514,479 1007,391"/>
<polyline class="b" points="824,407 295,337 513,354 556,257"/>
<polyline class="b" points="786,461 640,355 800,261 863,537 895,443"/>
<polyline class="o" points="448,313 810,423 537,101 927,593 774,436"/>
<polyline class="o" points="796,439 868,446 649,70 560,142 254,359"/>
<polyline class="b" points="271,327 692,429 830,493 1251,328 1203,430"/>
<polyline class="b" points="741,439 405,498 1250,272 775,184 252,438 426,252"/>
<polyline class="o" points="888,427 758,190 393,447 642,391"/>
<polyline class="o" points="417,99 729,475"/>
<polyline class="b" points="410,298 509,275 649,88 641,492 866,263 762,302 1006,329 701,210"/>
<polyline class="b" points="853,342 1002,477 595,61 500,467 650,226 937,363 293,400"/>
<polyline class="o" points="833,310 981,333 839,343"/>
<polyline class="o" points="651,246 996,405 1030,576 295,372 490,143 580,213 993,436"/>
<polyline class="b" points="660,551 574,284 202,369"/>
<polyline class="b" points="639,178 665,367 1208,432 556,254 917,261"/>
<polyline class="o" points="469,279 202,271 1198,353 370,522 325,163"/>
<polyline class="o" points="514,124 881,483 691,567 330,422 1000,599"/>
<polyline class="b" points="342,466 636,458 641,313 804,261 357,213"/>
<polyline class="b" points="1207,413 640,248 538,335 344,270 935,372 364,206"/>
<polyline class="o" points="682,521 294,419 947,308 952,313"/>
<polyline class="o" points="723,339 650,406 794,410 972,583"/>
<polyline class="b" points="614,256 504,332 442,371 428,127 493,318 840,163"/>
<polyline class="b" points="413,322 473,126 400,234 686,133 861,483"/>
<polyline class="o" points="428,278 595,110 666,349 529,190 741,314"/>
<polyline class="o" points="716,339 471,100 1189,352 854,482 430,464"/>
<polyline class="b" points="606,337 302,428 1111,194 663,118 743,326"/>
<polyline class="b" points="845,171 772,299 766,393 491,424 902,499"/>
<polyline class="o" points="582,76 672,476 643,314 568,92 731,446"/>
<polyline class="o" points="862,135 550,369 1135,192 456,308 1109,225 420,493 450,256"/>
<polyline class="b" points="685,122 948,367 1265,362"/>
<polyline class="b" points="643,309 513,471"/>
<polyline class="o" points="749,265 1074,173 861,180 982,378 207,261 379,188 283,367 793,520"/>
<polyline class="o" points="362,292 1183,507 239,513 493,455"/>
<polyline class="b" points="382,448 509,454 601,358 391,117 765,522 689,151"/>
<polyline class="b" points="821,345 757,521 937,571 596,339 665,373 518,457"/>
<polyline class="o" points="333,209 652,520 1027,470 604,283"/>
<polyline class="o" points="539,313 503,120 255,381 517,254 1265,339 1067,384"/>
<polyline class="b" points="930,571 268,348 223,271 996,581"/>
<polyline class="b" points="417,227 311,327 896,194 974,311 566,335"/>
<polyline class="o" points="253,516 306,417 760,457 434,477 1240,364"/>
<polyline class="o" points="900,503 814,475 768,426 1218,389 1141,197"/>
<polyline class="b" points="219,367 400,217 246,436 854,380 392,322"/>
<polyline class="b" points="411,491 511,96 305,332 432,316"/>
<polyline class="o" points="511,208 920,485 793,441 423,366 1201,372 357,133"/>
<polyline class="o" points="524,188 1186,418 612,424 1040,382 457,428 357,293"/>
<polyline class="b" points="750,226 797,250 219,455 360,218"/>
<polyline class="b" points="437,452 1042,361 785,365 789,334 811,141 507,484 257,492"/>
<polyline class="o" points="350,131 1179,343 935,475"/>
<polyline class="o" points="687,447 1291,378 849,525 311,294 540,71 512,125"/>
<polyline class="b" points="321,161 340,342 797,513 263,428"/>
<polyline class="b" points="221,405 899,465"/>
<polyline class="o" points="376,202 338,524 658,397 473,479 833,490 414,144 380,299 809,407"/>
<polyline class="o" points="815,334 390,150 1230,471 930,368 465,410"/>
<polyline class="b" points="1107,216 716,358 741,590 344,342 604,286"/>
<polyline class="b" points="797,455 905,296 824,496 933,234 642,256"/>
<polyline class="o" points="803,175 320,440 815,406 809,331 948,514"/>
<polyline class="o" points="727,586 675,391 410,237 555,71"/>
<polyline class="b" points="1228,430 604,245 872,515 326,399 447,178 483,259"/>
<polyline class="b" points="1000,602 888,392 1150,493 182,291 322,209"/>
<polyline class="o" points="396,486 1102,191 430,200 879,481 915,531"/>
<polyline class="o" points="946,327 816,252 603,317 994,443 457,471 1125,439"/>
<polyline class="b" points="588,222 661,413 712,336 676,519"/>
<polyline class="b" points="250,414 1211,499"/>
<polyline class="o" points="356,455 1027,429 214,494 847,291 615,168 748,161 616,130 969,584"/>
<polyline class="o" points="1172,366 658,576 897,198 529,298 1059,188 813,269 1150,438 743,179 721,117 741,416"/>
<polyline class="b" points="646,470 913,221 523,377 338,475"/>
<polyline class="o" points="646,357 740,153 843,446 670,268 946,512 813,335"/>
<polyline class="o" points="1229,424 807,397 278,471 459,466 1149,209 809,408"/>
<polyline class="b" points="714,142 339,167 810,413 668,244"/>
<polyline class="b" points="402,153 810,491 970,587 1263,456"/>
<polyline class="o" points="945,552 898,345 394,103 221,461 735,377 621,506"/>
<polyline class="o" points="552,196 449,259 253,463 1129,455 596,70"/>
<polyline class="b" points="1203,348 858,147 485,151 604,111 571,111"/>
<polyline class="b" points="689,239 403,481 477,433 1247,333"/>
<polyline class="o" points="1015,332 980,428 394,249 251,403 1222,489 547,117"/>
<polyline class="o" points="331,162 237,381 648,523 1197,336 644,507 469,320"/>
<polyline class="b" points="655,202 492,252 1246,265 622,250"/>
<polyline class="b" points="1034,209 524,204"/>
<polyline class="o" points="708,259 534,403 633,531 1095,200 463,318 906,486 935,355 623,221"/>
<polyline class="o" points="564,337 999,592 375,369 848,497 508,401 902,211"/>
<polyline class="b" points="1287,374 1140,214 437,309 826,566"/>
<polyline class="b" points="361,282 852,154 461,208 1041,317"/>
<polyline class="o" points="680,426 903,475 860,259 1240,363 1005,620 804,331"/>
<polyline class="o" points="359,202 882,148 849,423 351,354 299,362 1002,443 347,475"/>
<polyline class="b" points="498,252 410,453 764,452"/>
<polyline class="b" points="329,498 613,543 992,591 451,240 1240,351"/>
<polyline class="o" points="782,291 423,327 858,244 954,270 891,427"/>
<polyline class="o" points="828,214 300,393 855,436 1203,390 1069,395 397,343 797,326 1296,359 428,318"/>
<polyline class="b" points="807,484 807,484"/>
<polyline class="b" points="436,161 856,212 398,163 1011,297 631,169 871,443"/>
<polyline class="o" points="899,417 280,497 317,352 320,334"/>
<polyline class="o" points="638,395 897,490 334,376 434,490 658,259 891,306"/>
<polyline class="b" points="830,234 1012,558 766,283 922,458"/>
<polyline class="b" points="588,506 426,117 851,255 502,221"/>
<polyline class="o" points="422,289 805,416 264,491 1042,599 1011,314 451,109"/>
<polyline class="o" points="643,264 461,310 1051,392 921,312 966,563 768,306 999,478 824,472"/>
<polyline class="b" points="990,292 925,376"/>
<polyline class="b" points="461,350 562,529 1065,211"/>
<polyline class="o" points="278,485 1086,164 367,490 733,542 341,496 666,77 1134,450"/>
<polyline class="o" points="919,451 610,444 284,447 1077,360 964,421 341,461"/>
<polyline class="b" points="450,295 1218,324 622,269 377,123"/>
<polyline class="b" points="876,466 481,256"/>
<polyline class="o" points="823,379 757,564 545,403 704,352 915,566 1188,496 441,144 586,167"/>
<polyline class="o" points="1162,441 685,427 881,526 657,489 751,227 979,312 911,297"/>
<polyline class="b" points="721,460 442,284 625,554"/>
<polyline class="b" points="507,488 553,94 941,387"/>
<polyline class="o" points="223,478 490,108 323,529 1102,178 463,187 225,460 556,497"/>
<polyline class="o" points="699,114 888,312 795,366 1204,350 611,68 723,522 1112,166"/>
<polyline class="b" points="694,424 385,332 307,417"/>
<polyline class="b" points="739,419 852,444 708,304"/>
<polyline class="o" points="1274,386 942,572 841,168 583,208 270,495 1249,460 713,455"/>
<polyline class="o" points="372,120 1092,169 629,100 514,173 545,150"/>
<polyline class="b" points="297,415 899,385 464,349 861,504 420,449"/>
<polyline class="b" points="295,357 866,552 659,431 892,479 432,125 984,563"/>
<polyline class="o" points="744,461 1271,371 546,531 796,307"/>
<polyline class="o" points="810,219 426,122 828,564"/>
<polyline class="b" points="862,512 1036,325 377,449 377,285 723,555 805,578 973,343"/>
<polyline class="b" points="851,283 656,102 261,368"/>
<polyline class="o" points="1026,458 926,229 896,454 564,291 746,280 1036,439 883,222"/>
<polyline class="o" points="602,73 685,507 515,165 700,440 888,372"/>
<polyline class="b" points="740,180 667,422 494,103 782,354 256,396"/>
<polyline class="b" points="692,184 446,496 795,298 977,294 351,509"/>
<polyline class="o" points="481,456 372,304 880,510 650,90 639,414"/>
<polyline class="o" points="1006,328 399,372 359,408 1067,171 615,441 795,491"/>
<polyline class="b" points="1267,382 901,380 252,358 484,352"/>
<polyline class="b" points="842,351 583,329 420,360 1238,483 912,449 516,198 876,557"/>
<polyline class="o" points="481,368 812,437 866,296"/>
<polyline class="o" points="847,452 668,432 585,355 466,251 830,502"/>
<polyline class="b" points="404,172 453,308 846,346 518,168 382,356"/>
<polyline class="b" points="498,271 291,404 474,295 569,253 859,495 393,143"/>
<polyline class="o" points="436,249 230,515 430,97 1143,489"/>
<polyline class="o" points="756,483 1154,190 680,402 412,173 395,249 655,478 737,556"/>
<polyline class="b" points="918,395 1289,364 867,313"/>
<polyline class="b" points="734,487 979,457 921,495"/>
<polyline class="o" points="889,147 1048,315 948,489 341,431 730,278 769,542 955,520"/>
<polyline class="o" points="774,228 456,347 652,292 1028,342 284,451 602,520"/>
<polyline class="b" points="590,419 961,264 1151,441 482,387"/>
<polyline class="b" points="465,208 929,622 808,335 988,580 697,364 754,431"/>
<polyline class="o" points="370,318 627,87 912,450 550,213"/>
<polyline class="o" points="428,346 806,434 804,289 1072,187 657,298 269,470"/>
<polyline class="b" points="463,485 790,300 580,76 909,355"/>
<polyline class="b" points="594,403 951,589 338,416 1215,330 1187,375"/>
<polyline class="o" points="550,250 612,176 357,450 308,479 365,482"/>
<polyline class="o" points="651,128 562,345 948,595"/>
<polyline class="b" points="721,329 1039,351 755,569 677,256 698,576 426,150 419,392"/>
<polyline class="b" points="968,475 746,501 353,192 305,443"/>
<polyline class="o" points="860,528 235,356 437,232 543,356 982,445 615,569"/>
<polyline class="o" points="443,221 429,388 763,220 1250,403"/>
<polyline class="b" points="496,280 488,391 1232,256 649,98 297,324 517,279"/>
<polyline class="b" points="331,389 468,258 1038,181 680,82 978,401 910,258"/>
<polyline class="o" points="654,110 793,193 973,561 430,486"/>
<polyline class="o" points="1124,451 1265,473 456,106 1248,322 1157,462 687,375 682,284"/>
<polyline class="b" points="840,345 812,336 284,516"/>
<polyline class="b" points="836,439 937,334 444,325 276,443"/>
<polyline class="o" points="409,456 677,537 982,595 674,139 434,306 355,533"/>
<polyline class="o" points="373,397 225,434 1105,207 590,455 571,472 715,593 1028,404 1277,339"/>
<polyline class="b" points="525,514 626,409"/>
<polyline class="b" points="947,521 1237,479 650,253 896,277 874,208 354,169 907,172 528,266"/>
<polyline class="o" points="996,283 835,352"/>
<polyline class="o" points="829,557 1041,323 959,583 895,291 1047,171"/>
<polyline class="b" points="610,346 777,271 419,163 822,561 660,187"/>
<polyline class="b" points="1170,452 445,491 536,430 425,482 218,366"/>
<polyline class="o" points="404,258 1118,213 980,514 551,227 476,281"/>
<polyline class="o" points="958,459 653,364 448,114 993,396 1032,434 864,435 706,213"/>
<polyline class="b" points="1273,328 803,464 914,584"/>
<polyline class="b" points="1174,355 544,89 948,415 1131,453 827,216 389,207"/>
<polyline class="o" points="253,392 768,226 1079,223 1022,343"/>
<polyline class="o" points="586,463 615,395 1263,358 1055,365 997,298 965,452 1039,360 216,265 473,187"/>
<polyline class="b" points="553,234 553,234"/>
<polyline class="b" points="814,538 247,490"/>
<polyline class="o" points="644,135 929,458 722,529 952,442 545,355 787,293 704,529 326,213"/>
<polyline class="o" points="1270,381 979,307 235,496 887,442 723,576 461,178 813,480 546,208 1154,172"/>
<polyline class="b" points="1212,478 1212,478"/>
<polyline class="b" points="784,588 1187,476 733,542 589,306 839,293 1115,174"/>
<polyline class="o" points="442,340 786,303 648,280 547,421"/>
<polyline class="o" points="846,225 458,432 1049,408 390,181"/>
<polyline class="b" points="666,219 930,186 678,94 644,105 797,411 330,462"/>
<polyline class="b" points="627,387 555,247 1238,262 649,419 678,161"/>
<polyline class="o" points="638,367 355,263 652,394 591,388 531,68"/>
<polyline class="o" points="1006,482 721,579 286,460 780,443 395,152 942,557 547,477"/>
<polyline class="b" points="761,397 1063,410 732,309"/>
<polyline class="b" points="563,370 742,540 699,434 378,329 653,352"/>
<polyline class="o" points="563,185 1145,489 687,418 1257,265 590,228"/>
<polyline class="o" points="823,182 596,348 807,282 856,514 880,507"/>
<polyline class="b" points="512,373 673,206 1025,601 322,495 657,351"/>
<polyline class="b" points="749,212 955,279 610,285 992,496 525,100 916,325 840,551 656,189"/>
<polyline class="o" points="591,460 766,354"/>
<polyline class="o" points="382,173 1235,264 1259,452 468,220 993,434 945,510"/>
<polyline class="b" points="444,223 996,612 865,336 449,440"/>
<polyline class="b" points="893,349 441,468"/>
<polyline class="o" points="1216,427 579,119 570,382 844,514 988,305 687,533 973,623 567,367"/>
<polyline class="o" points="1255,436 960,595 490,390 751,199 1101,183"/>
<polyline class="b" points="389,483 949,321 867,336 439,414 609,515"/>
<polyline class="b" points="628,432 705,538 1198,502 947,485 630,508 710,545"/>
<polyline class="o" points="657,81 453,140 1040,571 648,561"/>
<polyline class="o" points="753,351 376,353 1017,339 685,423 718,509"/>
<polyline class="b" points="393,533 658,504 977,353 848,396 749,468"/>
<polyline class="b" points="949,528 949,528"/>
<polyline class="o" points="848,435 493,175 711,567 388,477 389,183 1079,211 1207,343 1189,464 547,249"/>
<polyline class="o" points="784,361 704,575 339,481 681,432 429,399 942,495 401,370"/>
<polyline class="b" points="711,579 964,267 795,410"/>
<polyline class="b" points="467,427 336,161"/>
<polyline class="o" points="427,481 994,477 283,334 587,393 777,392 915,403 523,459 469,241"/>
<polyline class="o" points="983,557 590,362"/>
<polyline class="b" points="725,164 792,149 474,252 734,153 735,449 616,428 812,580 563,359"/>
<polyline class="b" points="925,329 644,421 594,316"/>
<polyline class="o" points="626,216 1116,178 875,426 285,407 1040,410 780,584 516,198"/>
<polyline class="o" points="375,218 1000,307 274,447 1229,425 1060,169 491,173 770,252"/>
<polyline class="b" points="908,222 976,408 554,193"/>
<polyline class="b" points="446,425 446,425"/>
<polyline class="o" points="1019,336 972,334 1037,428 316,178 318,417 500,227 812,199 556,511 961,440"/>
<polyline class="o" points="1196,373 480,224"/>
<polyline class="b" points="804,503 878,536 411,247 1048,215 612,366 670,434 1255,358 586,148"/>
<polyline class="b" points="504,334 947,504 745,363 598,400 386,317"/>
<polyline class="o" points="712,333 787,520 492,156 839,423 644,274"/>
<polyline class="o" points="1209,335 970,444 680,588 868,387 1060,192 413,143 593,165 663,160"/>
<polyline class="b" points="925,168 544,124"/>
<polyline class="b" points="525,464 517,228 679,188 881,392 541,259 774,219"/>
<polyline class="o" points="539,329 642,272 1169,413 623,237"/>
<polyline class="o" points="847,372 795,459 833,522 893,282 673,143"/>
<polyline class="b" points="987,315 657,163 1055,377 1039,195 761,348"/>
<polyline class="b" points="586,311 1242,452 952,262 1009,355 660,471"/>
<polyline class="o" points="317,298 738,195 1022,350 1224,471 680,368"/>
<polyline class="o" points="549,458 779,350 254,342 884,190 252,395 810,271 369,284 1036,184 478,185"/>
<polyline class="b" points="866,235 866,235"/>
<polyline class="b" points="743,239 894,487 563,317 390,486 1115,223"/>
<polyline class="o" points="371,200 1265,470 333,529 890,370 698,437"/>
<polyline class="o" points="956,442 475,126 1032,443 976,331 434,263 412,182 341,146"/>
<polyline class="b" points="866,226 712,239 331,413"/>
<polyline class="b" points="580,338 672,377 835,460 952,596 707,414"/>
<polyline class="o" points="428,342 682,369 824,292 686,296 976,444"/>
<polyline class="o" points="1210,416 726,355 802,361"/>
<polyline class="b" points="954,430 885,382 872,555 323,383 606,497 599,554 988,353"/>
<polyline class="b" points="735,542 341,353 1080,188 801,473 581,133"/>
<polyline class="o" points="919,403 951,333 630,418 632,278 771,501"/>
<polyline class="o" points="812,443 330,285 453,379"/>
<polyline class="b" points="1246,430 1039,579 458,89 522,322 381,275 562,179 566,372"/>
<polyline class="b" points="969,473 731,192"/>
<polyline class="o" points="699,572 897,262 316,332 440,345 354,169 716,277 856,428 296,404"/>
<polyline class="o" points="900,455 1156,487"/>
<polyline class="b" points="580,522 577,301 1050,342 1071,186 863,307 535,270 1295,380 425,109"/>
<polyline class="b" points="960,372 585,376 1056,380 659,298"/>
<polyline class="o" points="687,359 675,251 615,71 621,428 366,175 403,446"/>
<polyline class="o" points="629,378 337,412 330,321"/>
<polyline class="b" points="628,83 858,338 538,306 212,351 746,437 824,308 549,269"/>
<polyline class="b" points="473,342 481,126 404,267 650,548 983,435 804,275"/>
<polyline class="o" points="799,280 516,345 806,234 989,380"/>
<polyline class="o" points="467,162 667,183 252,469"/>
<polyline class="b" points="497,287 1153,202 359,324 1068,187 745,341 582,456 322,405"/>
<polyline class="b" points="1041,589 575,109 661,401 658,468 715,439"/>
<polyline class="o" points="562,335 797,477 692,422 1090,160 404,311"/>
<polyline class="o" points="583,460 427,268 522,362 584,169 579,448"/>
<polyline class="b" points="623,514 766,286 1128,215 451,202 801,558"/>
<polyline class="b" points="430,383 916,181 597,524 1176,426 838,317"/>
<polyline class="o" points="681,237 263,514 1234,480 835,471 683,403"/>
<polyline class="o" points="456,195 945,488 320,430 781,591"/>
<polyline class="b" points="1182,341 922,557 892,180 489,320 807,453 489,425"/>
<polyline class="b" points="623,250 1110,197 819,310 858,408 1024,355"/>
<polyline class="o" points="845,459 704,374 509,80 438,195 523,218"/>
<polyline class="o" points="562,114 660,164 463,241 819,540 576,499 628,441"/>
<polyline class="b" points="626,482 529,325 240,435 672,172"/>
<polyline class="b" points="588,504 918,245 270,507 477,237 922,209"/>
<polyline class="o" points="556,185 507,436 401,156 698,378 897,319"/>
<polyline class="o" points="434,495 502,140 770,388 852,442"/>
<polyline class="b" points="265,379 533,340 583,492 506,405 457,362 489,271"/>
<polyline class="b" points="695,410 679,157 841,293"/>
<polyline class="o" points="1160,457 424,180 418,262 692,344 1237,267 362,498 569,476"/>
<polyline class="o" points="600,232 617,522 897,151 1043,416 601,336 670,380"/>
<polyline class="b" points="668,241 617,241 1284,352 806,316"/>
<polyline class="b" points="877,264 408,414 610,210 589,528 454,251 216,498"/>
<polyline class="o" points="811,514 652,94 478,142 1069,202"/>
<polyline class="o" points="1048,402 965,618 781,457 817,249"/>
<polyline class="b" points="875,557 498,484 794,267 295,334 819,175 806,166"/>
<polyline class="b" points="746,484 282,501 1239,468 836,423"/>
<polyline class="o" points="751,426 1127,438 728,444 765,284 956,295 345,150"/>
<polyline class="o" points="511,473 729,419 478,356 935,459 734,337"/>
<polyline class="b" points="885,157 478,296 991,349 309,376 686,128"/>
<polyline class="b" points="846,214 310,504 979,423 1211,337 676,240 483,108 664,215"/>
<polyline class="o" points="414,101 1218,328 870,206"/>
<polyline class="o" points="698,132 974,565 390,368 681,517 1233,473"/>
<polyline class="b" points="915,334 977,593 242,437 726,429 670,238"/>
<polyline class="b" points="877,473 1157,476"/>
<polyline class="o" points="975,596 1015,588 961,403 961,469 536,376 752,439 1080,221 1273,349"/>
<polyline class="o" points="687,365 484,273 332,162 756,247 515,218 347,189"/>
<polyline class="b" points="620,219 562,280 567,395 616,197"/>
<polyline class="b" points="1091,194 362,282 299,460 1059,403 682,427 716,176"/>
<polyline class="o" points="704,235 926,534 1238,275 482,400"/>
<polyline class="o" points="666,581 685,273 615,213 384,133 971,547 931,529 332,422 943,294"/>
<polyline class="b" points="876,565 561,288"/>
<polyline class="b" points="438,470 1261,336 735,332 637,400 949,308"/>
<polyline class="o" points="374,284 651,361 378,281 386,279 1258,381"/>
<polyline class="o" points="279,341 844,550 867,175 502,163 832,254 679,215"/>
<polyline class="b" points="592,241 644,288 320,484 672,430"/>
<polyline class="b" points="403,322 558,499 1022,575"/>
<polyline class="o" points="969,453 683,248 566,292 1134,169 529,170 1015,594 424,395"/>
<polyline class="o" points="853,221 749,299 696,286 739,292 767,222 377,506 652,308"/>
<polyline class="b" points="727,207 604,531 715,470"/>
<polyline class="b" points="861,512 679,395 537,94 1281,350 929,244"/>
<polyline class="o" points="551,532 812,346 372,200 385,239 1241,432"/>
<polyline class="o" points="459,225 459,225"/>
<polyline class="b" points="568,434 1258,334 496,382 747,331 1119,184 824,299 805,330 708,517 369,359"/>
<polyline class="b" points="609,450 867,244 720,499 940,311"/>
<polyline class="o" points="934,330 606,254 943,504 1001,451 588,416 368,143"/>
<polyline class="o" points="883,154 544,457 649,371 1238,458 861,315 1053,218 601,197"/>
<polyline class="b" points="697,588 701,245 807,460"/>
<polyline class="b" points="461,155 762,323 694,521 848,368 925,568 1162,490"/>
<polyline class="o" points="596,77 470,200 381,320 922,280"/>
<polyline class="o" points="420,483 464,357 247,468 564,87 559,161"/>
<polyline class="b" points="534,297 426,115 380,466 590,173 741,502"/>
<polyline class="b" points="713,142 753,281 943,516 980,362 1012,398 766,568"/>
<polyline class="o" points="882,286 210,396 167,274 840,250"/>
<polyline class="o" points="992,629 847,527 378,516 228,395"/>
<polyline class="b" points="732,596 553,290 1232,341 828,262 434,335 272,467"/>
<polyline class="b" points="1224,460 626,148 920,418 507,459 597,134 1175,428"/>
<polyline class="o" points="362,461 388,120 776,205 641,225"/>
<polyline class="o" points="211,274 812,164 777,333 493,127 911,223 360,387 745,334 1042,406 713,193"/>
<polyline class="b" points="875,326 875,326"/>
<polyline class="b" points="616,425 692,390 317,401"/>
<polyline class="o" points="969,273 629,232 973,366 546,386 1257,333 974,617 743,591"/>
<polyline class="o" points="693,562 1211,498 1252,445 456,373"/>
<polyline class="b" points="1227,335 876,550 906,387 824,553 706,143 731,467"/>
<polyline class="b" points="999,347 910,576 1248,389"/>
<polyline class="o" points="643,219 869,264 285,359 741,218 1217,368 616,177 825,507"/>
<polyline class="o" points="741,280 1199,352 507,211 529,84"/>
<polyline class="b" points="639,190 276,338 997,485 554,344 489,175 293,409"/>
<polyline class="b" points="1149,180 830,243 926,623 369,481 258,386"/>
<polyline class="o" points="539,451 441,371 671,194 622,507 620,513"/>
<polyline class="o" points="907,536 744,271 540,333 847,150 924,509 519,106 398,193"/>
<polyline class="b" points="396,450 563,475 447,309"/>
<polyline class="b" points="508,162 861,199 719,193"/>
<polyline class="o" points="531,237 797,469 1113,202 937,472 985,588 501,164 514,356"/>
<polyline class="o" points="804,563 1260,362 954,626 530,328 502,85"/>
<polyline class="b" points="849,537 476,428 1030,445 947,240 995,485"/>
<polyline class="b" points="670,268 745,168 829,328 672,320 855,383"/>
<polyline class="o" points="617,191 756,470 800,417 389,342 951,410"/>
<polyline class="o" points="995,411 298,437 714,362 490,445 346,388"/>
<polyline class="b" points="954,582 932,364 333,355 917,328 883,285"/>
<polyline class="b" points="229,349 1122,185 538,71"/>
<polyline class="o" points="683,478 396,248 803,379 687,506 592,305 445,177 360,478"/>
<polyline class="o" points="682,498 417,489 708,130 384,269 1023,317"/>
<polyline class="b" points="591,470 1064,192 921,320 665,171 865,484"/>
<polyline class="b" points="446,309 946,459 391,443 548,509 1246,361"/>
<polyline class="o" points="779,151 811,350 962,570 335,317 794,228"/>
<polyline class="o" points="985,417 825,134 511,425 699,371 978,455 742,397 423,316"/>
<polyline class="b" points="886,399 1210,464 793,546"/>
<polyline class="b" points="699,321 710,573 1045,180 615,435 471,97"/>
<polyline class="o" points="840,527 718,205 669,203 608,369 658,551"/>
<polyline class="o" points="538,304 863,413 766,399 378,352 816,302 675,408 601,135"/>
<polyline class="b" points="563,251 1253,383 587,241"/>
<polyline class="b" points="928,447 409,385"/>
<polyline class="o" points="648,527 474,286 424,455 841,371 723,249 716,187 975,423 715,155"/>
<polyline class="o" points="395,317 721,201 878,315 640,490"/>
<polyline class="b" points="1248,274 1057,185 850,271 988,615 818,514 571,324"/>
<polyline class="b" points="563,323 563,323"/>
<polyline class="o" points="383,311 942,597 667,188 618,459 401,385 697,434 836,187 900,167 1018,568"/>
<polyline class="o" points="913,177 430,333 863,423 660,215 695,262"/>
<polyline class="b" points="405,124 714,186 853,224 695,352 972,436"/>
<polyline class="b" points="472,289 588,338 378,528 812,303"/>
<polyline class="o" points="841,413 726,314 763,574 320,366 601,274 520,332"/>
<polyline class="o" points="948,316 442,344 1020,388 716,347 462,215"/>
<polyline class="b" points="1257,440 1223,354 708,471 755,360 283,338"/>
<polyline class="b" points="806,562 826,157 565,120 482,128 292,470"/>
<polyline class="o" points="1193,437 445,199 667,487 551,452 575,169"/>
<polyline class="o" points="482,83 872,253 625,168 396,132 735,395"/>
<polyline class="b" points="622,132 944,441 813,549 934,283 601,143"/>
<polyline class="b" points="653,393 801,170 697,467 358,494 500,230 393,521"/>
<polyline class="o" points="675,278 250,475 899,588 713,169"/>
<polyline class="o" points="1044,212 657,339 564,63 363,223 617,325 511,278 585,96"/>
<polyline class="b" points="669,278 762,538 877,452"/>
<polyline class="b" points="529,411 1253,478"/>
<polyline class="o" points="971,592 610,188 990,326 997,374 461,421 375,401 836,416 1137,166"/>
<polyline class="o" points="322,368 588,452 712,521 578,387 790,342"/>
<polyline class="b" points="293,431 743,504 1035,380 482,282 801,228"/>
<polyline class="b" points="860,391 771,410 1280,337 1202,475"/>
<polyline class="o" points="563,416 558,242 509,134 756,283 1126,466 595,489"/>
<polyline class="o" points="919,609 448,295 665,359 676,119 770,282 866,231"/>
<polyline class="b" points="526,114 614,161 666,169 1005,306"/>
<polyline class="b" points="464,487 511,465 384,193 422,467 1033,420"/>
<polyline class="o" points="705,114 648,163 554,140 1269,349 711,460"/>
<polyline class="o" points="367,534 941,501"/>
<polyline class="b" points="551,167 1121,204 630,199 828,216 1288,356 280,436 1270,352 555,403"/>
<polyline class="b" points="1005,392 842,429 499,128 741,291 828,227 503,379"/>
<polyline class="o" points="875,301 661,314 875,298 660,504"/>
<polyline class="o" points="1068,202 1201,476 1237,269 431,422 307,472"/>
<polyline class="b" points="739,179 852,230 864,501 217,451 503,479"/>
<polyline class="b" points="622,381 703,385 817,552 520,143 1234,328 484,287"/>
<polyline class="o" points="394,419 512,161 735,147 338,152"/>
<polyline class="o" points="659,331 351,482 710,476 596,407"/>
<polyline class="b" points="612,101 1199,459 750,480 279,423 939,358 628,351"/>
<polyline class="b" points="1087,203 636,70 757,199 1118,459"/>
<polyline class="o" points="532,329 583,128 1189,432 943,385 596,323 888,311"/>
<polyline class="o" points="306,528 958,556 774,497 1004,563"/>
<polyline class="b" points="455,222 1227,453 859,151 941,426 554,223 790,457"/>
<polyline class="b" points="951,286 432,351 483,430"/>
<polyline class="o" points="608,243 871,325 330,278 677,385 1188,349 667,317 327,343"/>
<polyline class="o" points="302,483 389,281 464,119 348,159"/>
<polyline class="b" points="872,547 1128,466 896,523 697,299 649,173 518,380"/>
<polyline class="b" points="1197,485 430,379 487,127 1157,423"/>
<polyline class="o" points="383,378 1004,619 584,410 894,469 694,472 1239,381"/>
<polyline class="o" points="718,155 950,277 482,272 1054,207 499,228"/>
<polyline class="b" points="932,495 650,381 696,457 808,163 494,428"/>
<polyline class="b" points="1022,582 1171,449 498,265 498,194"/>
<polyline class="o" points="1005,609 605,505 334,456 870,427 639,159 534,490"/>
<polyline class="o" points="723,356 489,436 561,122 954,620 653,467"/>
<polyline class="b" points="1053,389 427,145 458,374 348,288 763,546"/>
<polyline class="b" points="667,231 581,421 256,466 511,385"/>
<polyline class="o" points="891,190 770,348 970,299 957,265 1025,592 448,327"/>
<polyline class="o" points="951,396 581,397 386,342 596,383 721,244"/>
<polyline class="b" points="594,227 485,337 756,392 984,468 877,502"/>
<polyline class="b" points="479,450 407,255 950,521 629,106 1070,167"/>
<polyline class="o" points="405,407 303,453 385,497 380,305 1228,404"/>
<polyline class="o" points="1009,461 700,270 892,194 626,119 894,474"/>
<polyline class="b" points="612,269 684,84 1160,179 986,487 421,414"/>
<polyline class="b" points="411,527 536,103 838,234 561,454"/>
<polyline class="o" points="399,236 898,397 867,442 1153,420 867,392 514,81"/>
<polyline class="o" points="483,351 589,552 599,413"/>
<polyline class="b" points="909,359 844,332 1015,306 788,384 973,326 318,351 813,299"/>
<polyline class="b" points="348,331 1124,192 1298,364 1145,199 383,183 940,250"/>
<polyline class="o" points="528,361 825,197 735,528 513,435"/>
<polyline class="o" points="705,563 841,515 407,177 469,370 1036,584 846,313 911,587"/>
<polyline class="b" points="403,320 637,426 646,182"/>
<polyline class="b" points="676,164 768,312"/>
<polyline class="o" points="711,313 799,467 297,454 1198,477 544,120 528,267 280,362 594,371"/>
<polyline class="o" points="417,123 784,422 732,364 805,529"/>
<polyline class="b" points="667,585 419,131 874,445 984,397 1014,567 1036,572"/>
<polyline class="b" points="611,364 924,616 407,335"/>
<polyline class="o" points="645,413 674,133 641,274 429,191 468,382 439,373 1278,381"/>
<polyline class="o" points="928,319 702,116 432,362 980,550 762,438 709,532 635,351"/>
<polyline class="b" points="488,257 1085,225 969,278"/>
<polyline class="b" points="924,621 308,340 493,326 600,397 379,362"/>
<polyline class="o" points="843,177 352,174 993,622 666,538 318,204"/>
<polyline class="o" points="711,162 483,275 669,288 575,370"/>
<polyline class="b" points="485,419 839,559 899,377 729,132 751,455 1203,470"/>
<polyline class="b" points="1053,175 688,398 655,206 767,414 476,474 852,353"/>
<polyline class="o" points="700,395 375,294 795,349 577,274"/>
<polyline class="o" points="1182,466 332,465 603,320 1226,383"/>
<polyline class="b" points="1238,350 1146,457 973,326 418,488 860,172 222,501"/>
<polyline class="b" points="222,259 803,456 595,372 900,341 971,429 874,518"/>
<polyline class="o" points="308,487 756,377 441,413 1195,446"/>
<polyline class="o" points="939,500 713,495 751,275 1198,376 703,308 976,356"/>
<polyline class="b" points="880,301 768,352 1017,292 522,184"/>
<polyline class="b" points="702,276 526,181 1029,189 809,435"/>
<polyline class="o" points="719,325 821,384 436,215 277,340 603,312 514,299"/>
<polyline class="o" points="550,186 745,373 1000,345 457,194 244,335 454,192"/>
<polyline class="b" points="995,604 999,556 398,412 990,319"/>
<polyline class="b" points="298,325 618,352 334,312 1178,505 637,209 1147,495"/>
<polyline class="o" points="727,350 626,462 732,425 912,594"/>
<polyline class="o" points="1010,574 729,572 763,343 570,146"/>
<polyline class="b" points="583,66 315,343 773,412 755,577 263,510 283,380"/>
<polyline class="b" points="772,309 719,450 703,228 489,226 770,390 1257,372"/>
<polyline class="o" points="482,135 936,431 1131,181 398,307"/>
<polyline class="o" points="617,393 873,152 297,318 540,377 382,206 1224,474 626,245 547,136"/>
<polyline class="b" points="398,287 1018,398"/>
<polyline class="b" points="772,356 217,361 653,223"/>
<polyline class="o" points="623,272 487,219 877,350 370,519 1196,475 808,312 701,209"/>
<polyline class="o" points="506,463 583,421 1264,353 437,205 846,559 652,537 1049,401 800,253 605,565"/>
<polyline class="b" points="691,199 691,199"/>
<polyline class="b" points="486,231 556,143 736,462 328,482 341,488 806,540"/>
<polyline class="o" points="344,434 977,447 869,389 1262,448"/>
<polyline class="o" points="1213,455 597,317 946,335 350,195 826,389 276,475 1209,345 927,433"/>
<polyline class="b" points="1224,355 553,321"/>
<polyline class="b" points="858,205 749,504 849,350 1002,610 450,341 1045,399"/>
<polyline class="o" points="666,380 1036,336 1244,268 315,155"/>
<polyline class="o" points="500,505 539,270 315,148 639,357 835,376 412,340 1013,621"/>
<polyline class="b" points="953,357 719,548 1010,612"/>
<polyline class="b" points="612,199 1116,451 495,300 549,133 928,198 938,616"/>
<polyline class="o" points="776,449 551,314 377,376 865,369"/>
<polyline class="o" points="1231,480 358,298 652,288 698,122 300,494"/>
<polyline class="b" points="601,416 325,143 413,321 425,316 687,367"/>
<polyline class="b" points="843,457 624,383 902,283 909,526 917,500"/>
<polyline class="o" points="788,241 865,199 667,261 910,521 596,169"/>
<polyline class="o" points="1239,266 719,218 432,350"/>
<polyline class="b" points="774,221 979,418 660,542 410,381 835,463 657,433 915,373"/>
<polyline class="b" points="904,282 1043,432 904,305"/>
<polyline class="o" points="306,382 386,282 423,186 501,142 708,218 1178,459 907,593"/>
<polyline class="o" points="903,418 313,398 969,271 699,243 604,342 438,185 325,359 1214,412"/>
<polyline class="b" points="433,247 994,395"/>
<polyline class="b" points="511,252 902,476"/>
<polyline class="o" points="1197,464 666,324 904,304 1009,411 331,162 867,401 993,580 919,533"/>
<polyline class="o" points="1266,394 885,156 611,194 879,165 486,223 543,312"/>
<polyline class="b" points="258,360 329,325 576,325 747,252"/>
<polyline class="b" points="501,152 536,260 359,481 685,410 849,263 541,216"/>
<polyline class="o" points="387,502 1235,356 664,539 920,235"/>
<polyline class="o" points="738,221 938,441 813,348 618,449 299,364 487,148"/>
<polyline class="b" points="230,477 709,433 668,300 1196,457"/>
<polyline class="b" points="839,347 240,409 577,181 877,266"/>
<polyline class="o" points="941,318 997,370 688,186 843,231 1256,345 639,317"/>
<polyline class="o" points="909,280 572,331 848,416 572,346 683,272"/>
<polyline class="b" points="758,425 1027,196 716,305 507,302 836,465"/>
<polyline class="b" points="964,393 295,483 629,478 581,105 838,493 1218,372"/>
<polyline class="o" points="762,489 1239,350 1250,340 1206,384"/>
<polyline class="o" points="838,276 324,290 247,346 714,564 888,278 983,609"/>
<polyline class="b" points="982,579 258,412 494,133 685,362"/>
<polyline class="b" points="752,210 407,243 1222,439 723,124 288,451"/>
<polyline class="o" points="1182,419 604,343 320,452 525,344 994,368"/>
<polyline class="o" points="689,306 615,355 746,158 1039,206 603,528"/>
<polyline class="b" points="279,520 709,198 881,405 550,491 283,376"/>
<polyline class="b" points="505,75 826,507 523,206"/>
<polyline class="o" points="1131,474 1026,600 967,425 912,608 975,509 700,262 459,102"/>
<polyline class="o" points="718,376 417,480 791,322 1236,324 877,442 765,586"/>
<polyline class="b" points="720,181 1276,381 886,476 578,83"/>
<polyline class="b" points="1262,469 521,397"/>
<polyline class="o" points="637,141 1087,211 563,450 641,111 489,129 669,569 941,628 763,200"/>
<polyline class="o" points="633,460 878,323 394,261 409,471 747,398 871,527"/>
<polyline class="b" points="1230,447 864,178 685,184 489,204"/>
<polyline class="b" points="762,167 762,167"/>
<polyline class="o" points="1179,418 387,231 470,162 566,452 1245,371 1039,584 456,91 800,301 1250,385"/>
<polyline class="o" points="734,411 670,171 962,510 532,126 379,529"/>
<polyline class="b" points="651,534 1122,446 718,592 1189,455 848,448"/>
<polyline class="b" points="699,310 682,137 655,456"/>
<polyline class="o" points="426,98 464,225 748,530 1083,166 343,486 971,457 509,330"/>
<polyline class="o" points="733,511 989,405 1009,301"/>
<polyline class="b" points="1174,427 838,296 864,439 707,323 322,372 438,108 1108,218"/>
<polyline class="b" points="424,362 774,339 1155,451 590,485"/>
<polyline class="o" points="384,183 884,331 910,416 364,472 794,278 1227,267"/>
<polyline class="o" points="799,585 287,368 778,494 295,365 1230,474 548,170"/>
<polyline class="b" points="384,235 931,515 680,378 1215,405"/>
<polyline class="b" points="970,571 1179,341 880,504 789,374"/>
<polyline class="o" points="818,446 733,452 430,466 556,479 334,463 703,329"/>
<polyline class="o" points="1101,161 1256,445 501,384 689,353 665,497"/>
<polyline class="b" points="720,368 800,545 481,449 491,198 559,247"/>
<polyline class="b" points="314,375 269,364"/>
<polyline class="o" points="900,492 992,488 950,289 1021,392 351,472 1217,456 839,550 546,514"/>
<polyline class="o" points="892,218 421,464 920,412 822,542 349,217"/>
<polyline class="b" points="212,394 944,603 226,352 555,67 618,66"/>
<polyline class="b" points="920,394 659,326 837,464 959,320"/>
<polyline class="o" points="749,436 576,182 782,339 246,405 634,335 673,83"/>
<polyline class="o" points="511,399 260,434 501,409 1041,457 1130,469 598,230 554,122"/>
<polyline class="b" points="553,510 520,267 631,360"/>
<polyline class="b" points="678,235 1252,349 825,556 341,323 761,506"/>
<polyline class="o" points="872,359 569,358 515,404 721,511 341,309"/>
<polyline class="o" points="357,387 749,261 857,444 564,466 942,609 540,429 638,540"/>
<polyline class="b" points="749,324 945,382 1276,349"/>
<polyline class="b" points="1095,221 718,179 861,193 1121,467"/>
<polyline class="o" points="315,191 372,506 276,492 927,561 1253,391 679,91"/>
<polyline class="o" points="382,211 600,502 1213,451 709,275 216,360 225,396"/>
<polyline class="b" points="329,212 1209,393 970,341 386,401"/>
<polyline class="b" points="1239,437 410,505 903,405 603,498 952,324 644,177"/>
<polyline class="o" points="867,146 748,424 579,216 906,204"/>
<polyline class="o" points="965,301 315,417 430,427 1121,178 360,511"/>
<polyline class="b" points="1140,482 772,442 603,409 889,254 779,247"/>
<polyline class="b" points="412,101 801,296 652,195 776,161"/>
<polyline class="o" points="592,478 494,472 1050,357 649,535 846,257 1012,472"/>
<polyline class="o" points="919,455 654,535 899,376 698,134"/>
<polyline class="b" points="544,247 1207,378 699,143 904,431 1228,339 572,516"/>
<polyline class="b" points="674,347 671,349"/>
<polyline class="o" points="342,433 674,513 605,312 715,349 634,546 641,553 752,180 587,248"/>
<polyline class="o" points="872,164 427,447 1049,171 963,421 910,253 914,404"/>
<polyline class="b" points="614,193 1248,487 363,193 1239,473"/>
<polyline class="b" points="422,146 776,291 1281,388"/>
<polyline class="o" points="992,489 733,236 537,347 897,489 919,226 860,394 879,331"/>
<polyline class="o" points="1153,438 355,297 522,82 830,289 247,467 487,156 989,623"/>
<polyline class="b" points="1163,419 234,462 649,282"/>
<polyline class="b" points="599,258 938,589 520,246 1093,163"/>
<polyline class="o" points="754,543 358,173 290,508 383,316 938,241 292,334"/>
<polyline class="o" points="1005,305 808,358 430,338 360,494"/>
<polyline class="b" points="714,231 525,172 1203,372 689,327 934,224 687,361"/>
<polyline class="b" points="545,218 480,143 846,306 1178,489 1092,178"/>
<polyline class="o" points="699,459 651,264 706,389 663,89 790,345"/>
<polyline class="o" points="982,596 983,402 844,260 525,295"/>
<polyline class="b" points="1041,590 789,547 690,465 992,277 904,591 454,365"/>
<polyline class="b" points="905,546 980,401 513,268"/>
<polyline class="o" points="1242,339 896,356 644,517 1053,370 690,148 330,420 1209,343"/>
<polyline class="o" points="443,397 859,283 1164,485 917,475 969,607"/>
<polyline class="b" points="700,388 420,391 929,183 1142,184 757,538"/>
<polyline class="b" points="544,217 392,271 1224,420"/>
<polyline class="o" points="427,146 685,378 388,517 720,133 579,375 730,130 304,452"/>
<polyline class="o" points="922,386 1131,435 1242,274 464,134 1198,414"/>
<polyline class="b" points="952,620 537,384 818,261 734,585 821,440"/>
<polyline class="b" points="852,462 1002,358 936,257 917,178 590,478 721,289 527,246"/>
<polyline class="o" points="984,488 433,426 469,214"/>
<polyline class="o" points="494,338 360,429 766,234 967,437 844,548"/>
<polyline class="b" points="1062,370 764,549 791,298 464,117 668,91"/>
<polyline class="b" points="624,414 729,203 912,562 732,158"/>
<polyline class="o" points="674,196 577,433 672,568 356,301 947,618 987,603"/>
<polyline class="o" points="465,147 211,491 802,558 350,221"/>
<polyline class="b" points="565,260 363,417 454,494 579,321 694,528 1188,368"/>
<polyline class="b" points="1218,382 342,139 1141,466"/>
<polyline class="o" points="648,477 628,305 285,346 605,538 599,217 962,426 247,393"/>
<polyline class="o" points="386,471 1204,485 865,238 1251,478 500,80"/>
<polyline class="b" points="266,463 1266,349 687,146 971,484 607,72"/>
<polyline class="b" points="358,468 977,305 1177,365 703,363 491,431"/>
<polyline class="o" points="539,258 554,485 214,286 1065,169 1187,456"/>
<polyline class="o" points="463,473 616,88 1188,377 494,268 749,275 530,247 420,358"/>
<polyline class="b" points="762,232 652,102 591,360"/>
<polyline class="b" points="583,351 923,198"/>
<polyline class="o" points="693,318 842,173 321,355 642,366 1197,464 490,377 653,454 296,372"/>
<polyline class="o" points="786,408 276,489 438,294 858,519 489,136 811,558 433,281 1226,397"/>
<polyline class="b" points="712,523 865,345"/>
<polyline class="b" points="879,531 645,472 301,391 1073,222 524,393 1007,401"/>
<polyline class="o" points="496,472 387,460 717,388 906,584"/>
<polyline class="o" points="562,520 368,404 407,370 786,313 382,443"/>
<polyline class="b" points="665,517 691,230 977,552 1022,391 769,469"/>
<polyline class="b" points="1239,475 811,402 473,424"/>
<polyline class="o" points="241,394 929,607 593,289 501,468 518,249 947,244 937,583"/>
<polyline class="o" points="1131,207 890,148"/>
<polyline class="b" points="1236,495 1041,171 879,528 935,311 538,211 1197,383 266,373 1022,472"/>
<polyline class="b" points="298,488 1196,421 861,535 966,297 733,285"/>
<polyline class="o" points="542,406 873,540 585,229 1201,488 1194,456"/>
<polyline class="o" points="958,414 604,122 362,434 768,363 649,183 938,356"/>
<polyline class="b" points="933,263 528,86 881,398 587,351"/>
<polyline class="b" points="1148,473 829,425 427,328 772,545"/>
<polyline class="o" points="946,515 481,233 394,159 514,154 334,168 963,616"/>
<polyline class="o" points="465,282 454,371 396,243 495,373"/>
<polyline class="b" points="1258,449 1152,452 325,383 1161,442 926,341 801,480"/>
<polyline class="b" points="318,345 737,126 953,283"/>
<polyline class="o" points="474,121 541,92 752,172 810,294 651,118 442,177 1179,348"/>
<polyline class="o" points="834,543 811,192 658,80 1114,196 795,486 536,80"/>
<polyline class="b" points="527,103 1019,581 542,411 861,360"/>
<polyline class="b" points="685,452 1004,558 535,366 800,214"/>
<polyline class="o" points="688,224 707,519 993,378 695,466 443,187 610,263"/>
<polyline class="o" points="959,433 626,402 335,368 468,479 516,149 689,415"/>
<polyline class="b" points="592,76 993,387 341,345 972,306"/>
<polyline class="b" points="991,335 392,459 1220,337 249,454 921,590 625,464"/>
<polyline class="o" points="371,406 683,223 406,295 1225,263"/>
<polyline class="o" points="394,212 570,194 904,476 812,296 917,571"/>
<polyline class="b" points="611,217 887,211 576,515 439,126 1244,460"/>
<polyline class="b" points="560,240 712,221 498,99 629,523 661,417 226,282 739,526"/>
<polyline class="o" points="484,417 774,283 626,85"/>
<polyline class="o" points="1204,370 253,334 625,395 562,262 828,467 1207,490"/>
<polyline class="b" points="887,534 514,245 716,200 660,302"/>
<polyline class="b" points="752,228 771,177 1168,417 348,316 754,143 677,189"/>
<polyline class="o" points="606,66 604,70 1290,342 638,329"/>
<polyline class="o" points="394,203 517,404 791,578 526,350 521,487 715,287 1263,450"/>
<polyline class="b" points="706,477 588,328 1016,472"/>
<polyline class="b" points="257,511 764,566 894,258 877,467"/>
<polyline class="o" points="1056,174 1105,220 797,534 249,391 817,487 822,466"/>
<polyline class="o" points="577,522 492,236 990,422 589,387 712,538 975,492"/>
<polyline class="b" points="578,60 708,366 766,312 470,442"/>
<polyline class="b" points="444,208 343,407 646,460 1179,419 973,327"/>
<polyline class="o" points="340,455 707,424 664,327 630,392 595,225"/>
<polyline class="o" points="1108,180 715,305 1153,478 742,217 488,104"/>
<polyline class="b" points="379,458 535,226 817,174 342,327 869,411"/>
<polyline class="b" points="348,445 563,437 512,293 334,433 1013,555 552,443"/>
<polyline class="o" points="450,466 456,470 639,358 844,242"/>
<polyline class="o" points="405,135 381,330 1014,401 634,395 419,495 861,518 781,202 557,386"/>
<polyline class="b" points="380,309 397,203"/>
<polyline class="b" points="574,493 1163,494 1110,175 742,470 773,429"/>
<polyline class="o" points="532,484 507,446 1070,390 592,249 245,488"/>
<polyline class="o" points="643,386 618,377 1058,181"/>
<polyline class="b" points="867,429 841,235 971,506 485,366 880,230 469,112 510,381"/>
<polyline class="b" points="1224,343 488,92 679,223 1000,569 1030,464"/>
<polyline class="o" points="234,439 399,520 689,381 1040,453 724,379"/>
<polyline class="o" points="961,286 982,329 362,427 707,257 901,488 767,551 741,299"/>
<polyline class="b" points="410,415 641,253 765,250"/>
<polyline class="b" points="1258,377 319,331"/>
<polyline class="o" points="1006,590 1153,462 803,259 1195,494 540,397 668,485 593,534 665,527"/>
<polyline class="o" points="389,185 821,437 782,301 590,516"/>
<polyline class="b" points="708,227 235,483 438,249 1095,208 620,470 918,477"/>
<polyline class="b" points="834,301 428,313 1140,454 1039,178 695,397"/>
<polyline class="o" points="874,530 970,565 1239,265 489,133 298,423"/>
<polyline class="o" points="565,311 703,439 696,260 444,391 1202,494 1014,330 447,342"/>
<polyline class="b" points="371,149 801,310 679,326"/>
<polyline class="b" points="417,379 842,301 210,294 312,169 882,346"/>
<polyline class="o" points="625,362 714,380 638,319 807,319 937,318"/>
<polyline class="o" points="678,305 550,61 1025,445 776,411"/>
<polyline class="b" points="479,347 1243,273 1244,335 889,210 819,314 1092,210"/>
<polyline class="b" points="893,266 752,594 961,563 898,181 854,327 284,457 589,246 538,120"/>
<polyline class="o" points="586,525 1224,459"/>
<polyline class="o" points="899,182 781,550 668,363 664,531 537,464 835,311 610,497 608,235"/>
<polyline class="b" points="918,542 905,409"/>
<polyline class="b" points="591,130 400,453 720,316 625,283 961,257"/>
<polyline class="o" points="1133,481 585,360 610,362 1248,392 981,492"/>
<polyline class="o" points="1056,399 1208,426 656,559 653,196 579,125"/>
<polyline class="b" points="1016,609 533,245 1203,501 544,114 589,172"/>
<polyline class="b" points="724,429 385,528 918,431 872,317"/>
<polyline class="o" points="1024,397 463,457 591,276 551,189 466,442 1122,466"/>
<polyline class="o" points="419,476 1172,414 1182,479 737,537 1247,444 695,191 808,341 691,307"/>
<polyline class="b" points="817,167 584,119"/>
<polyline class="b" points="697,120 1127,172 582,347 581,118"/>
<polyline class="o" points="832,168 879,328 313,453 485,386 501,77 988,312"/>
<polyline class="o" points="1185,358 596,497 266,362 901,398 516,441 833,539"/>
<polyline class="b" points="1147,424 568,221 398,275 991,462"/>
<polyline class="b" points="1158,444 510,358"/>
<polyline class="o" points="468,415 590,255 643,251 736,396 958,269 792,415 417,320 658,84"/>
<polyline class="o" points="660,551 1185,451 501,79 849,276"/>
<polyline class="b" points="579,267 290,416 1016,571 748,354 977,604 893,431"/>
<polyline class="b" points="910,283 345,384 639,200 208,388"/>
<polyline class="o" points="906,443 486,364 1175,356 711,402 237,410 1064,205"/>
<polyline class="o" points="628,493 825,456 809,412 960,603 358,193"/>
<polyline class="b" points="499,91 1173,479 337,295 586,60 588,354"/>
<polyline class="b" points="987,550 779,400 516,236 659,381"/>
<polyline class="o" points="797,481 607,246 1008,407 291,495 245,374 1182,462"/>
<polyline class="o" points="975,569 442,395 546,164 358,462 465,205"/>
<polyline class="b" points="1010,298 430,296 601,116 875,362 541,86"/>
<polyline class="b" points="626,547 693,352 609,549 513,502 625,501 754,540"/>
<polyline class="o" points="524,316 816,264 302,164 463,480"/>
<polyline class="o" points="364,440 865,216 947,602 718,423 643,203 878,216 1115,193 1042,336"/>
<polyline class="b" points="652,284 1001,610"/>
<polyline class="b" points="678,135 602,381 438,175"/>
<polyline class="o" points="512,341 296,494 924,215 990,558 764,503 792,270 781,546"/>
<polyline class="o" points="564,197 225,358 478,509 843,550 701,162"/>
<polyline class="b" points="1301,363 781,327 697,484 1199,421 1225,324"/>
<polyline class="b" points="636,377 1003,353 318,143"/>
<polyline class="o" points="609,143 354,143 771,304 393,301 350,393 756,499 882,321"/>
<polyline class="o" points="606,559 268,503 676,130 514,104 1259,371 574,312 539,467"/>
<polyline class="b" points="420,341 391,305 1022,407"/>
<polyline class="b" points="486,281 888,382 736,311 276,505"/>
<polyline class="o" points="657,470 686,558 496,472 229,466 429,333 1055,210"/>
<polyline class="o" points="677,553 462,168 945,580 304,446 399,367 969,294"/>
<polyline class="b" points="707,304 541,248 451,309 542,218"/>
<polyline class="b" points="881,498 638,443 829,565 652,250 1154,477 700,357 745,267"/>
<polyline class="o" points="437,263 589,353 783,229"/>
<polyline class="o" points="833,373 398,157 386,127 904,290 410,133 445,249 397,140 899,535 871,210"/>
<polyline class="b" points="372,513 372,513"/>
<polyline class="b" points="686,551 582,421 722,431 1146,185"/>
<polyline class="o" points="589,500 949,428 1031,453 1232,454 891,272 514,374"/>
<polyline class="o" points="1219,373 428,341 456,367 699,165 1207,496"/>
<polyline class="b" points="666,204 691,307 803,442 311,469 462,161"/>
<polyline class="b" points="313,502 888,327 659,83 1063,191 526,289"/>
<polyline class="o" points="922,318 672,82 790,493 839,310 723,524"/>
<polyline class="o" points="856,240 356,274 782,263 535,426 547,448 667,159"/>
<polyline class="b" points="830,217 860,420 481,241 1030,189"/>
<polyline class="b" points="568,515 1001,497 922,434 811,377 885,398"/>
<polyline class="o" points="736,534 284,481 292,494 669,334 408,340"/>
<polyline class="o" points="717,184 905,593 649,203 788,323 439,258 419,336 731,323 734,433 384,525"/>
<polyline class="b" points="527,199 527,199"/>
<polyline class="b" points="427,171 221,488 614,134 969,613"/>
<polyline class="o" points="653,337 296,349 1028,214 1054,422 541,236 495,444"/>
<polyline class="o" points="393,153 929,181 664,100 1145,473 1023,587 1007,452 337,281"/>
<polyline class="b" points="299,513 1091,172 554,333"/>
<polyline class="b" points="822,556 1100,225 375,397 338,433"/>
<polyline class="o" points="704,146 371,321 559,66 889,505 526,96 449,182"/>
<polyline class="o" points="816,350 626,474 648,375 984,333"/>
<polyline class="b" points="1024,332 989,556 1017,324 985,618 904,215 548,206"/>
<polyline class="b" points="646,451 377,543"/>
<polyline class="o" points="730,472 690,450 605,515 963,432 359,159 824,176 802,193 920,419"/>
<polyline class="o" points="719,278 396,101 485,149 615,382 1135,430 593,186 403,149 715,315"/>
<polyline class="b" points="1248,467 701,570"/>
<polyline class="b" points="1285,388 761,221 1143,467 1225,417"/>
<polyline class="o" points="513,220 681,135 560,76 420,155 1011,350 485,85"/>
<polyline class="o" points="624,317 711,205 717,528 838,177"/>
<polyline class="b" points="745,160 410,429 1075,171 211,475 645,336 886,363"/>
<polyline class="b" points="787,188 539,372 373,501 248,270 518,524"/>
<polyline class="o" points="712,283 1082,201 1307,352 728,177 334,230"/>
<polyline class="o" points="664,594 1064,425 904,548 872,569"/>
<polyline class="b" points="965,240 934,163 1088,380 196,496 1026,294 1042,298"/>
</g></g>
<g clip-path="url(#c2)" filter="url(#bl)"><g transform="translate(0 485) scale(.5)">
<polyline class="p" points="412,260 574,268 697,73 626,320 380,385"/>
<polyline class="q" points="903,360 1091,455 652,557 721,348 819,439 785,340 1053,275 761,456 1130,465 1086,418"/>
<polyline class="q" points="817,399 884,202 1188,430 767,76 947,548 867,72 1104,272 605,552"/>
<polyline class="p" points="340,390 572,106 768,462 916,265 186,327 341,165 633,417"/>
<polyline class="p" points="337,420 398,423 637,338"/>
<polyline class="q" points="616,551 1112,170 695,496 765,224 1096,434 720,134 1173,352 756,50 717,127 825,552 1032,425 1055,291"/>
<polyline class="q" points="1036,443 675,465 867,187 1068,241 757,390 1263,247 887,378 981,260 979,147 789,583 892,252 904,247"/>
<polyline class="p" points="371,350 625,250 407,438"/>
<polyline class="p" points="769,411 504,446 502,502 223,377"/>
<polyline class="q" points="915,258 773,81 1026,426 903,434 1277,340 698,516 1072,250 707,129 1000,308 810,185 822,220"/>
<polyline class="q" points="901,126 1002,309 671,457 784,150 627,189 783,320 847,500 704,481 928,518 1098,488"/>
<polyline class="p" points="911,346 195,292 477,445 495,461 657,371"/>
<polyline class="p" points="642,197 460,392 309,328 605,93 952,443 750,387 322,376 415,231"/>
<polyline class="q" points="1083,491 987,181 686,412 965,382 855,62 1194,362 1014,522"/>
<polyline class="q" points="984,235 818,216 754,262 703,367 756,46 951,443 833,122 1040,449 1086,418 1072,384"/>
<polyline class="p" points="436,431 409,437 631,305 405,246 517,257"/>
<polyline class="p" points="658,218 591,85 772,412 340,398"/>
<polyline class="q" points="800,588 819,262 808,375 954,447 978,150 1098,449 1214,421 936,314 1151,320 791,586 1164,425"/>
<polyline class="q" points="933,190 682,448 838,173 808,580 896,426 873,76 821,275 1239,322 1201,287 825,137 718,343"/>
<polyline class="p" points="241,423 721,351 606,439 399,372"/>
<polyline class="p" points="401,334 485,217 308,183 240,300 575,382 488,382"/>
<polyline class="q" points="660,555 1177,266 800,100 860,265 881,251 931,289 1259,233 1077,410 826,467"/>
<polyline class="q" points="770,524 672,547 1068,383 896,416 975,468 905,203 1049,472 640,489 758,270"/>
<polyline class="p" points="636,397 763,458 634,258 523,475 309,325 456,410"/>
<polyline class="p" points="499,312 985,359 213,357 289,233 454,403 474,310"/>
<polyline class="q" points="1186,217 918,268 884,393 1055,265 817,424 767,169 826,136 763,441 1000,494"/>
<polyline class="q" points="822,240 1099,275 927,234 999,303 1072,257 870,331 998,404"/>
<polyline class="p" points="548,273 638,384 694,103 503,353 492,458 696,253 408,240 447,419"/>
<polyline class="p" points="552,394 330,363 455,344"/>
<polyline class="q" points="1201,427 1176,291 1096,210 940,434 672,466 1083,347 1006,182 823,293 898,427 1261,261 750,578 657,147"/>
<polyline class="q" points="760,246 1067,216 1099,451 901,425 1076,255 1155,419 1079,137 929,180 1170,258 864,66 1084,141 1207,373"/>
<polyline class="p" points="305,226 581,158 242,420"/>
<polyline class="p" points="182,326 674,348 390,426 326,186 334,179 591,280"/>
<polyline class="q" points="991,546 815,189 664,68 989,174 1014,524 750,481 789,143 1195,362 822,245"/>
<polyline class="q" points="1161,423 818,259 829,116 668,458 1149,312 979,464 1003,187 963,375"/>
<polyline class="p" points="1040,114 645,369 167,308 430,139 394,425 430,147 469,203"/>
<polyline class="p" points="506,437 495,442 656,310 370,164 459,473 521,492 939,421"/>
<polyline class="q" points="1098,353 1164,253 1202,367 722,344 1007,325 705,99 836,232 1153,413"/>
<polyline class="q" points="763,261 1102,270 667,559 797,96 921,488 917,479 897,418 975,549 914,159"/>
<polyline class="p" points="473,444 490,447 425,145 305,204 764,434 455,234"/>
<polyline class="p" points="549,476 558,364 668,173 603,438 493,354 479,492 489,169"/>
<polyline class="q" points="875,288 784,328 798,144 911,350 820,276 609,559 579,92 660,148"/>
<polyline class="q" points="1098,284 817,553 979,471 819,137 635,109 1048,281 1113,487 1039,130 652,140 1087,424 1073,399"/>
<polyline class="p" points="632,327 595,365 934,328 498,339"/>
<polyline class="p" points="734,300 242,424 528,247 557,122 462,496 184,329 239,411 770,404"/>
<polyline class="q" points="1201,286 1219,286 893,106 1003,171 1037,443 940,405 964,388"/>
<polyline class="q" points="705,373 623,74 674,465 996,351 936,423 945,439 747,555 770,409 657,145"/>
<polyline class="p" points="580,348 373,148 463,230 488,354 317,266 770,408"/>
<polyline class="p" points="619,211 417,305 490,175 716,148 394,154 216,298"/>
<polyline class="q" points="1228,219 823,492 626,556 820,110 803,575 1076,305 981,472 1132,384 873,541"/>
<polyline class="q" points="868,71 1101,352 810,204 661,556 986,402 1129,376 843,327 771,512 885,375 1151,409"/>
<polyline class="p" points="686,184 373,150 482,205 509,421 581,465"/>
<polyline class="p" points="365,434 168,312 648,387 508,423 508,254 268,339 183,311"/>
<polyline class="q" points="1014,517 1088,148 922,165 1007,326 1096,281 760,266 988,187 800,140"/>
<polyline class="q" points="663,150 782,151 886,99 1093,492 934,300 878,194"/>
<polyline class="p" points="456,150 212,290 468,227 595,364 628,319 589,193 615,263 378,383 478,227"/>
<polyline class="p" points="243,427 445,214 290,233 581,154 776,475"/>
<polyline class="q" points="863,69 825,307 713,110 617,509 885,385 1164,247 881,323 1066,231 891,109 1147,310"/>
<polyline class="q" points="1074,408 983,475 1180,271 1004,306 642,124 704,366 871,190"/>
<polyline class="p" points="763,437 557,479 590,357 746,387 703,188 676,319 314,325 230,383"/>
<polyline class="p" points="410,148 594,238 307,216"/>
<polyline class="q" points="1036,118 844,507 1097,230 815,466 938,319 1093,435 1189,430 920,347 765,219 871,542 809,192 866,258"/>
<polyline class="q" points="823,487 1129,382 891,366 1014,520 926,282 1094,230 864,183 1002,211 813,191"/>
<polyline class="p" points="508,515 637,397 424,431 434,423 490,496 483,186"/>
<polyline class="p" points="438,416 630,288 315,263 505,340 455,418 447,404"/>
<polyline class="q" points="563,121 832,483 1149,310 881,200 821,434 1107,193 1003,307 995,108 979,234"/>
<polyline class="q" points="919,239 1095,222 1167,260 964,379 989,197 811,210 1004,110 825,407 1084,347"/>
<polyline class="p" points="218,368 460,343 662,555 303,235 654,216 495,303"/>
<polyline class="p" points="567,472 266,335 308,312 584,85 345,348 528,247 647,392 193,337 512,418"/>
<polyline class="q" points="989,166 898,356 1103,198 833,318 983,157 903,352"/>
<polyline class="q" points="888,406 754,49 803,143 1228,390 1149,409 760,540 1074,275 797,143 1011,409 822,385"/>
<polyline class="p" points="620,322 517,236 497,276 616,428 383,393"/>
<polyline class="p" points="207,293 669,229 672,330"/>
<polyline class="q" points="1192,429 701,487 729,327 994,487 849,329 952,549 764,171 932,188 977,549 817,570 656,68 1012,520"/>
<polyline class="q" points="1002,198 755,543 802,97 1273,337 945,441 893,200 822,386 826,532 1001,489 979,246 1064,233 999,111 769,513 764,491"/>
<polyline class="p" points="478,322 478,322"/>
<polyline class="p" points="319,176 476,200 473,481"/>
<polyline class="q" points="659,149 802,576 1014,519 1028,430 1201,216 1200,426 765,161 1077,409 1199,427 663,151 855,331 874,190"/>
<polyline class="q" points="933,530 778,85 1002,305 991,546 980,151 754,253 607,73 986,114"/>
<polyline class="p" points="600,339 309,283 218,291 629,108 198,290 771,467 594,166"/>
<polyline class="p" points="667,225 527,490 303,233 643,377 748,550 632,72 387,364 500,316"/>
<polyline class="q" points="987,172 1074,405 762,518 1079,413 1204,368 766,520 1016,108"/>
<polyline class="q" points="1112,185 644,69 816,110 1087,168 1167,295 557,162 992,542 712,481 686,525"/>
<polyline class="p" points="649,326 491,291 221,373 314,260 495,305 180,323"/>
<polyline class="p" points="495,184 581,350 471,381 441,237 654,213 388,159 385,396 386,423 747,385"/>
<polyline class="q" points="756,65 765,200 867,453 1003,172 986,268 883,87"/>
<polyline class="q" points="1219,218 889,103 828,136 766,289 1157,335 819,549 1196,360 855,182 552,156 1221,312"/>
<polyline class="p" points="382,429 222,289 212,299 766,419 415,142"/>
<polyline class="p" points="386,157 610,239 214,362 204,291"/>
<polyline class="q" points="1108,197 821,221 694,81 1113,174 750,481 1054,249 609,516 821,416 615,208 815,431 1225,314"/>
<polyline class="q" points="1075,262 883,301 599,79 922,275 891,307 1004,165 765,392"/>
<polyline class="p" points="321,175 583,315 370,350 639,255 563,387 990,355 259,331 640,386"/>
<polyline class="p" points="534,507 420,281 342,176 492,515 387,298 294,250"/>
<polyline class="q" points="1022,420 1207,370 759,185 816,103 1111,173 828,311 883,195 754,537 864,535"/>
<polyline class="q" points="983,549 1037,114 858,185 813,190 731,481 848,329 1297,377 792,585 979,356 622,186"/>
<polyline class="p" points="598,452 746,386 697,247 637,325 647,325"/>
<polyline class="p" points="1167,296 458,415 684,229 486,223 291,234 411,388"/>
<polyline class="q" points="1093,431 1101,201 750,561 842,320 1049,385 1104,355 783,328 1033,370 884,249"/>
<polyline class="q" points="919,341 757,586 821,415 927,177 1169,266 784,336 696,527 1097,155 573,134 905,141 760,539 1110,172"/>
<polyline class="p" points="670,337 495,304 332,419"/>
<polyline class="p" points="347,370 582,231 619,211 550,378 459,228 672,231 456,234 604,356"/>
<polyline class="q" points="918,198 1010,534 832,510 823,483 745,566 1283,346 825,305"/>
<polyline class="q" points="1091,428 1053,263 604,532 793,362 677,455 815,108 1186,219"/>
<polyline class="p" points="593,283 640,390 437,152 212,360 642,286 660,220 550,403 375,417"/>
<polyline class="p" points="219,294 553,371"/>
<polyline class="q" points="886,378 887,381 1098,235 812,109 1168,429 721,158 938,317 820,220 1050,120 831,309 818,385 1246,327 765,186"/>
<polyline class="q" points="865,277 755,538 556,161 913,259 1217,309 916,159 618,564 764,532 1031,426 1071,274 1170,427"/>
<polyline class="p" points="655,214 763,457 387,360 1125,477"/>
<polyline class="p" points="518,415 412,396 453,153 979,357"/>
<polyline class="q" points="681,436 1103,442 1105,165 609,521 830,133 1248,225 979,243 837,532 809,105 630,556 1204,367"/>
<polyline class="q" points="705,371 866,539 1208,425 624,184 1247,224 753,52 815,442 626,565"/>
<polyline class="p" points="506,264 424,146 442,149 472,367 317,179 420,394 178,321"/>
<polyline class="p" points="471,482 304,223 610,280 642,257 1154,415 300,267 491,354"/>
<polyline class="q" points="823,138 1057,474 819,456 816,461 1011,409 1104,201 920,478 1263,246"/>
<polyline class="q" points="822,561 1061,480 857,61 866,260 820,264 1099,449 861,478 1251,270 1037,115 775,597 836,232 1238,322"/>
<polyline class="p" points="627,259 610,432 462,146"/>
<polyline class="p" points="793,587 205,350 762,454 503,337"/>
<polyline class="q" points="751,549 1215,374 1099,278 1009,526 1117,361 776,28 722,483 1096,225 995,490 815,470 636,491"/>
<polyline class="q" points="708,480 856,465 914,466 737,483 1135,396 1085,417 1056,390 821,476 1198,287 1191,430 822,386 916,472"/>
<polyline class="p" points="459,207 480,512 489,155"/>
<polyline class="p" points="648,263 230,386 631,417 587,297 515,445"/>
<polyline class="q" points="1087,344 993,293 936,226 1005,319 1148,316 801,369 816,141 981,548 569,188 638,192"/>
<polyline class="q" points="1178,268 694,523 1052,250 682,69 893,405 1022,113 898,126 721,476 1078,156 1075,290 1195,213"/>
<polyline class="p" points="264,335 385,317 505,431 670,221"/>
<polyline class="p" points="415,266 631,313 493,461 1111,485 239,410 568,454 468,502"/>
<polyline class="q" points="599,533 1003,314 915,467 992,107 1162,299 1125,462 1090,457 1107,361"/>
<polyline class="q" points="763,280 794,362 934,186 1170,296 917,486 721,477 823,558 845,53 1121,367 1100,202 1167,297 885,383"/>
<polyline class="p" points="321,275 713,145 220,296"/>
<polyline class="p" points="561,362 650,294 432,223 417,155 424,430"/>
<polyline class="q" points="1070,246 768,499 819,217 663,476 1071,487 930,195 1002,193 798,589 884,305 1012,510"/>
<polyline class="q" points="756,245 1031,362 778,336 611,206 697,512 887,390 646,133 826,396 1106,199"/>
<polyline class="p" points="984,352 850,330 611,418 641,294 614,336 580,273"/>
<polyline class="p" points="922,502 654,476 561,228 579,376 383,319"/>
<polyline class="q" points="690,540 816,458 987,163 888,95 847,514 914,345 1082,487 597,195 850,331 1172,426"/>
<polyline class="q" points="988,401 988,165 1232,317 718,336 951,404 973,118 760,69"/>
<polyline class="p" points="190,334 661,340 481,189 574,189 675,349 658,278 609,241 368,436"/>
<polyline class="p" points="443,216 675,159 306,230 541,480 509,424 766,207 213,359"/>
<polyline class="q" points="852,473 646,207 987,182 975,360 700,489 984,167 859,266 954,549"/>
<polyline class="q" points="841,56 1174,291 670,155 1101,201 1135,394 771,503 990,107 690,427 556,160"/>
<polyline class="p" points="643,203 846,53 601,361 441,147 496,475 427,401"/>
<polyline class="p" points="202,348 585,371 483,200 1154,336 671,231"/>
<polyline class="q" points="1062,480 696,521 842,233 776,295 779,335 1070,262 1242,227 1184,217 649,133 1225,280"/>
<polyline class="q" points="680,69 885,196 770,302 1107,194 1162,342 990,282 1082,161 770,34 1012,107 1071,252 827,112"/>
<polyline class="p" points="426,415 645,201 425,148 325,279"/>
<polyline class="p" points="936,315 498,365 670,172 462,464 647,326 363,430 652,369"/>
<polyline class="q" points="1102,356 1217,378 813,141 1194,361 1072,281 1153,416 1092,347 1182,290"/>
<polyline class="q" points="661,561 695,86 610,523 1000,110 893,412 1041,452 923,275 648,563 651,557 805,138"/>
<polyline class="p" points="670,354 633,396 498,321 399,262 433,413"/>
<polyline class="p" points="504,433 623,250 555,372 351,426 719,310 338,401"/>
<polyline class="q" points="926,522 817,212 988,277 1002,200 730,300 607,202 659,479 973,142 991,543"/>
<polyline class="q" points="932,291 1074,485 605,547 806,99 1097,450 1113,359 1105,172 1065,221 688,517 607,549 1219,381"/>
<polyline class="p" points="724,410 493,463 484,379 593,291"/>
<polyline class="p" points="622,281 530,511 187,304 771,461 624,341"/>
<polyline class="q" points="1082,416 656,472 841,326 833,536 690,538 1053,469 969,544 823,472 627,187 921,499"/>
<polyline class="q" points="778,591 979,466 1007,533 1278,343 1046,463 1110,360"/>
<polyline class="p" points="779,477 619,106 570,263 657,296 222,300 609,425 403,272 497,475 483,152"/>
<polyline class="p" points="300,333 400,436 495,338 475,372 417,247 657,379 513,237 545,499"/>
<polyline class="q" points="961,379 674,163 982,242 704,481 1251,327 559,128 1095,453"/>
<polyline class="q" points="889,198 1223,314 1129,383 898,426 682,182 682,69 643,564 646,132 1067,384 900,131"/>
<polyline class="p" points="295,215 664,222 695,259 426,399 495,369"/>
<polyline class="p" points="440,222 217,363 530,391"/>
<polyline class="q" points="1091,303 1264,334 617,209 1202,366 922,171 655,215 855,448 923,174 756,56 760,251 1150,331 1010,408"/>
<polyline class="q" points="923,344 820,219 981,356 972,368 918,491 809,200 1083,419 846,502"/>
<polyline class="p" points="528,507 300,269 421,420 760,431 418,430 568,458 257,316"/>
<polyline class="p" points="540,406 501,238 625,339 640,284 513,418 527,491 281,334 642,401 240,421"/>
<polyline class="q" points="555,154 859,527 626,73 1193,290 567,189 820,105"/>
<polyline class="q" points="758,527 646,129 1065,216 1294,364 885,389 777,304 824,422 1129,456 1121,369 939,311"/>
<polyline class="p" points="296,244 330,375 474,337 380,385 643,322"/>
<polyline class="p" points="467,401 574,353 590,280 640,396 582,88 486,470 201,348 577,466 596,252"/>
<polyline class="q" points="999,492 651,557 1089,351 1259,332 814,208 917,265"/>
<polyline class="q" points="1043,128 797,140 760,70 1092,352 936,545 720,478 850,480 582,191 1264,244"/>
<polyline class="p" points="703,113 545,242 672,331 765,424 469,225 543,283"/>
<polyline class="p" points="588,297 608,285 552,369 1151,411"/>
<polyline class="q" points="1161,419 942,428 998,489 1002,202 782,318 1236,321 760,505 560,118 1248,328 640,112 680,439"/>
<polyline class="q" points="895,109 915,263 658,68 858,330 766,83 991,286 1149,410 1071,394"/>
<polyline class="p" points="634,280 494,512 996,540 527,244 1163,349 343,174 613,275"/>
<polyline class="p" points="825,552 643,375 512,428 327,183 477,401"/>
<polyline class="q" points="1070,387 759,589 754,61 799,579 898,427 883,250 1113,185 750,551 1100,352 754,52"/>
<polyline class="q" points="788,145 673,69 1126,466 913,350 1295,355 829,519 601,541"/>
<polyline class="p" points="495,470 767,422 469,451 395,144 244,311 577,264 567,470 520,493"/>
<polyline class="p" points="498,372 246,301 448,406 663,474 537,483"/>
<polyline class="q" points="1070,328 1095,457 1052,387 665,472 918,346 816,106 820,562 846,502 881,81 1036,434"/>
<polyline class="q" points="1227,314 835,133 1055,268 835,532 631,110 916,342 605,201 1065,124 662,466 1215,286"/>
<polyline class="p" points="343,422 415,423 284,327 412,281 526,403"/>
<polyline class="p" points="183,310 395,259 346,350 719,338 507,234 603,77"/>
<polyline class="q" points="961,546 1073,394 689,534 900,247 1096,212 612,73 1228,390 1223,216 819,253"/>
<polyline class="q" points="829,477 1206,286 1117,183 563,245 815,441 767,592 1186,351 988,173 855,485 810,202"/>
<polyline class="p" points="505,353 576,232 371,159 546,229 316,265"/>
<polyline class="p" points="541,503 484,385 771,408 484,358"/>
<polyline class="q" points="782,348 706,364 1055,250 1054,269 736,482 735,480 769,502 1170,222 676,545 1235,402 1170,424"/>
<polyline class="q" points="989,480 720,336 762,72 761,522 759,583 1101,159 634,566 725,320 626,558 829,528"/>
<polyline class="p" points="414,248 761,446 585,463 648,386 590,287"/>
<polyline class="p" points="1005,333 479,382 374,326 467,204 576,327 559,379 579,154"/>
<polyline class="q" points="1014,519 983,545 1159,422 876,290 722,479 627,186 823,468 995,113"/>
<polyline class="q" points="855,524 738,473 635,70 751,56 1097,487 630,109 841,319 957,549"/>
<polyline class="p" points="458,150 291,231 572,99 745,385 583,314 608,427 712,141"/>
<polyline class="p" points="603,174 306,278 615,511 761,391 185,297 333,173"/>
<polyline class="q" points="1097,224 689,431 1031,426 1066,218 1076,290 1149,411 760,263 1297,359 848,330"/>
<polyline class="q" points="817,214 799,588 887,321 1001,497 794,579 816,181 927,196 824,237 804,363 620,508"/>
<polyline class="p" points="397,298 195,342 263,336 579,463 781,478"/>
<polyline class="p" points="182,322 499,319 420,148 579,235 641,369"/>
<polyline class="q" points="977,114 803,577 693,528 721,146 1295,364 1053,262 1149,317 1100,213 978,140 1031,429"/>
<polyline class="q" points="834,177 1118,483 752,56 1105,357 1218,422 633,191 839,232 1003,502"/>
<polyline class="p" points="423,398 606,427 536,285 625,270 630,294 596,196 473,334"/>
<polyline class="p" points="381,329 592,440 252,328 446,412 496,315 555,367 598,359"/>
<polyline class="q" points="831,130 820,279 941,428 717,366 859,269 914,242 689,441 833,48"/>
<polyline class="q" points="1223,384 822,246 889,104 697,176 1208,286 718,307 797,582"/>
<polyline class="p" points="724,393 264,321 613,282 554,475 388,151 514,469 569,369 575,188"/>
<polyline class="p" points="520,407 365,150 415,270 647,278"/>
<polyline class="q" points="1088,426 1010,407 928,330 689,427 919,479 898,201 854,334 1070,251 1086,349 821,459 856,335"/>
<polyline class="q" points="687,541 937,426 823,292 976,137 708,102 811,105 1130,387 777,329 1205,214 916,343"/>
<polyline class="p" points="461,391 598,170 538,492 417,311 549,240"/>
<polyline class="p" points="393,427 549,398 703,241 332,366 581,89 225,373 314,197 500,166 305,314"/>
<polyline class="q" points="684,165 1118,482 870,187 921,489 823,256 818,273"/>
<polyline class="q" points="847,54 931,231 663,468 1166,258 606,556 1087,165 704,499 1246,228 1135,390"/>
<polyline class="p" points="372,428 315,308 762,450 333,362 198,292 414,238"/>
<polyline class="p" points="394,299 578,188 297,220 762,194 489,394 261,333 481,495"/>
<polyline class="q" points="860,265 668,460 1165,233 931,189 1003,161 1149,320 1045,120 953,450"/>
<polyline class="q" points="1049,389 558,161 776,300 767,508 663,556 760,228 1102,204"/>
<polyline class="p" points="292,335 611,284 588,377 250,317 579,357 488,282 609,415 451,410"/>
<polyline class="p" points="605,331 608,352 499,261 387,358 659,301 457,414"/>
<polyline class="q" points="1046,460 1118,478 1074,403 888,385 926,340 937,306 1180,430 777,90 894,116"/>
<polyline class="q" points="629,561 937,541 642,564 865,279 1126,464 825,480 819,549 1050,124 930,328 1071,270 753,488"/>
<polyline class="p" points="679,235 565,366 461,467 326,296"/>
<polyline class="p" points="518,444 857,440 645,150 369,376 390,358 466,395 485,446"/>
<polyline class="q" points="1085,345 1162,237 812,200 870,252 1143,403 799,357 796,362 1056,139"/>
<polyline class="q" points="1265,335 764,393 1075,401 761,579 855,520 893,110 781,89 1002,543"/>
<polyline class="p" points="569,382 518,510 574,231 648,209 387,402 480,161 529,505"/>
<polyline class="p" points="585,368 498,360 513,443 508,239 766,420 469,370 245,323 400,379"/>
<polyline class="q" points="1043,131 1209,375 1063,230 694,176 921,164 832,315 1130,471"/>
<polyline class="q" points="973,366 578,190 905,352 1172,224 779,154 921,490 991,284 837,50"/>
<polyline class="p" points="773,464 482,382 549,276 679,71 565,384 400,380 497,310"/>
<polyline class="p" points="356,416 296,247 475,271 549,231"/>
<polyline class="q" points="1038,115 1149,310 892,360 854,473 668,461 1045,291 1145,405 992,207 1193,215 899,248 729,481"/>
<polyline class="q" points="922,500 956,447 1053,259 827,301 871,290 818,216 696,78 1045,288 710,354 567,191 1164,244 764,532"/>
<polyline class="p" points="494,450 604,92 478,309"/>
<polyline class="p" points="311,179 495,157 666,344 488,340 640,196"/>
<polyline class="q" points="867,450 955,451 1167,297 1235,218 857,62 815,447 1160,298 680,429 1082,331 1046,388"/>
<polyline class="q" points="1079,141 1056,261 819,219 645,559 763,232 1109,168 947,442 828,404 980,245 597,169 695,502"/>
<polyline class="p" points="700,108 488,383 413,267 293,232"/>
<polyline class="p" points="774,471 474,378 659,275 526,432 315,293 400,251"/>
<polyline class="q" points="1093,433 758,272 792,356 1076,402 866,469 896,111 1175,266 1109,179 996,486"/>
<polyline class="q" points="623,516 1051,292 769,84 1292,355 1261,239 766,493 678,544 703,494 982,261 1163,422 1217,281"/>
<polyline class="p" points="343,351 515,502 656,301 668,559"/>
<polyline class="p" points="498,507 323,407 631,321 484,255 625,415 395,336"/>
<polyline class="q" points="764,590 1115,481 1091,457 674,464 674,447 976,115 1079,407 718,335 764,508"/>
<polyline class="q" points="913,350 918,240 819,256 759,582 924,169 685,442 963,456 525,493 724,474 918,165"/>
<polyline class="p" points="399,301 394,153 323,377 656,286 491,197"/>
<polyline class="p" points="758,391 363,356 416,300 503,239 242,422"/>
<polyline class="q" points="1066,129 830,307 863,268 1248,327 979,113 873,539 819,186 777,327 1171,353 1086,318"/>
<polyline class="q" points="781,29 835,501 1059,126 682,550 1054,121 636,111 824,249 763,229 886,249 858,447"/>
<polyline class="p" points="560,157 315,264 429,222 731,392 370,365"/>
<polyline class="p" points="365,366 536,246 500,258 779,470 534,391"/>
<polyline class="q" points="755,45 766,297 686,519 596,193 1033,371 886,321 1249,327 1074,153 926,272 745,564"/>
<polyline class="q" points="836,129 667,558 789,592 862,273 683,446 721,331 1223,415 650,134"/>
<polyline class="p" points="509,477 322,403 481,273 594,193 723,396 642,389 290,331"/>
<polyline class="p" points="412,259 596,432 588,240 457,468 493,269 361,157 576,463"/>
<polyline class="q" points="659,474 1081,491 859,470 1006,334 1256,236 1105,199 1072,329 647,149"/>
<polyline class="q" points="817,280 1175,269 936,303 1020,415 756,69 907,204 655,67"/>
<polyline class="p" points="425,246 513,443 482,381 610,352 350,346 436,238 306,254 555,366"/>
<polyline class="p" points="362,152 488,248 489,456 377,370 705,114 603,285"/>
<polyline class="q" points="1051,122 828,307 1071,277 823,227 688,434 1053,477 755,483 1080,335 716,308"/>
<polyline class="q" points="985,164 760,74 749,557 900,207 768,584 833,505 924,506 925,271"/>
<polyline class="p" points="290,223 501,470 631,275 606,435 1113,359 721,406 480,160"/>
<polyline class="p" points="655,380 581,460 172,304 936,419 461,209 494,292 728,391 584,87"/>
<polyline class="q" points="1022,113 1010,526 1193,215 892,102 1079,333 1170,224 938,313"/>
<polyline class="q" points="797,140 783,88 844,328 672,70 1111,175 866,255 1099,449 620,554"/>
<polyline class="p" points="769,456 764,459 223,291 230,384 772,464 327,378 552,474"/>
<polyline class="p" points="472,403 419,427 222,297 731,395 194,293 608,435"/>
<polyline class="q" points="651,70 751,582 611,181 1092,457 716,367 1187,217 844,180 1072,486 1181,429"/>
<polyline class="q" points="775,296 1224,386 1142,406 822,262 566,134 1162,348 1114,184"/>
<polyline class="p" points="417,290 461,212 428,400 198,301 326,282 470,156 626,262 1006,343"/>
<polyline class="p" points="578,266 449,212 485,329 621,399 561,239"/>
<polyline class="q" points="883,319 1214,376 644,68 998,220 590,83 992,197 830,134 1076,298 993,352 765,206"/>
<polyline class="q" points="756,532 989,180 612,546 932,524 683,547 821,262 846,332 857,63 751,582 889,95 1049,279"/>
<polyline class="p" points="318,197 475,490 455,211 725,393"/>
<polyline class="p" points="490,169 827,112 431,236 649,277 382,385"/>
<polyline class="q" points="692,176 689,439 856,453 1003,342 905,440 955,405 817,218 1106,197 684,539 621,182"/>
<polyline class="q" points="849,497 761,37 769,281 927,229 1168,351 560,157 1032,365 665,71"/>
<polyline class="p" points="653,268 451,413 539,394 528,234 224,291 342,405 462,343"/>
<polyline class="p" points="648,328 194,340 519,249 309,206 548,483 411,388"/>
<polyline class="q" points="1250,329 810,188 696,84 975,362 1213,283 774,312 1177,294 1066,230 1196,287"/>
<polyline class="q" points="834,534 861,181 1263,333 703,369 1224,382 894,417 866,331 1151,309 1009,528"/>
<polyline class="p" points="631,284 703,242 542,497 634,301 421,154 640,111"/>
<polyline class="p" points="266,324 489,342 564,242 535,283 776,470 488,495 463,341 248,317 653,214"/>
<polyline class="q" points="1103,269 595,80 771,80 842,515 695,79 1129,379"/>
<polyline class="q" points="855,469 817,401 706,365 1007,408 1164,256 751,577 1058,144 828,478 864,186 1260,259 887,384 651,561"/>
<polyline class="p" points="342,368 553,477 184,325"/>
<polyline class="p" points="333,392 314,196 522,498 437,146 591,284 641,202 699,496"/>
<polyline class="q" points="824,468 866,186 1204,215 860,181 1228,393 940,405 655,477 972,132"/>
<polyline class="q" points="1104,267 983,261 1086,140 1191,360 1171,262 974,119 1228,315 941,304"/>
<polyline class="p" points="642,305 498,260 327,404 489,180 491,466 400,265 423,154"/>
<polyline class="p" points="494,367 485,293 698,256 226,376 671,348 626,261"/>
<polyline class="q" points="1209,374 821,395 826,240 813,188 1081,325 720,138 703,487 1002,403 698,182"/>
<polyline class="q" points="1090,306 1221,314 971,363 962,393 1051,275 1091,433 950,448 690,512 1075,289 666,469 944,436"/>
<polyline class="p" points="207,354 661,349 489,473 565,154"/>
<polyline class="p" points="530,235 309,250 386,320 975,123 482,311 675,318"/>
<polyline class="q" points="783,344 604,74 850,60 991,212 819,140 1214,376 623,70 928,338 761,534"/>
<polyline class="q" points="895,417 658,146 693,531 1094,297 751,555 1013,520 1226,387"/>
<polyline class="p" points="294,333 591,194 547,230 731,325 321,179 589,279 418,154 182,325"/>
<polyline class="p" points="599,358 493,301 341,384 571,155 559,265 587,191 399,436 1165,251 395,153"/>
<polyline class="q" points="762,186 773,157 1267,250 748,482 848,331 804,370"/>
<polyline class="q" points="971,549 819,550 934,323 927,527 1099,153 887,381 826,296 918,484 709,489 685,70"/>
<polyline class="p" points="377,430 272,325 703,284 543,232 401,434"/>
<polyline class="p" points="487,446 397,307 607,282 477,445 302,226 584,244 471,336"/>
<polyline class="q" points="1010,513 1176,292 977,116 640,113 1083,491 940,430 959,386 853,470"/>
<polyline class="q" points="767,161 1093,490 880,87 683,541 835,128 866,262 756,246"/>
<polyline class="p" points="592,232 708,130 238,309 726,395 642,394 372,418 767,421 375,348"/>
<polyline class="p" points="728,295 631,284 324,370 722,403 433,429 506,241 730,391 354,426"/>
<polyline class="q" points="647,69 1212,421 806,574 763,584 873,286 738,480 940,540"/>
<polyline class="q" points="601,532 1038,115 832,488 883,198 933,292 860,268 853,471 775,597 646,488 659,378"/>
<polyline class="p" points="256,320 438,144 603,251 588,280 485,218"/>
<polyline class="p" points="644,199 539,498 367,334 578,325 470,337 501,435"/>
<polyline class="q" points="778,153 1065,209 886,389 982,230 1008,407 820,257 1234,278 925,196 592,192"/>
<polyline class="q" points="926,196 1075,258 683,424 1105,445 984,114 828,542 920,341 1010,511 824,230 1161,299 673,225 758,534"/>
<polyline class="p" points="322,279 627,409 403,302"/>
<polyline class="p" points="384,419 374,378"/>
<polyline class="q" points="1097,490 1151,325 689,436 1233,278 714,364 704,94 984,470 1094,288 794,349 721,143 607,535 772,286 882,332"/>
<polyline class="q" points="781,320 605,536 1105,161 1064,482 1191,217 1108,489 885,251 1167,350 769,155"/>
<polyline class="p" points="531,487 612,282 591,239 429,412 417,395 390,399"/>
<polyline class="p" points="549,484 403,272 629,261 455,348 403,267"/>
<polyline class="q" points="1003,178 812,106 649,135 996,484 829,493 1249,226 890,408 903,357 839,320 610,179"/>
<polyline class="q" points="1084,162 893,402 965,457 1151,328 830,533 790,91 764,187 989,274 1063,129"/>
<polyline class="p" points="681,227 500,502 360,427 454,406 371,350 318,300"/>
<polyline class="p" points="444,148 664,220 410,391 566,228 591,458 431,233"/>
<polyline class="q" points="1083,342 1020,111 1049,470 974,123 1143,404 976,132 685,430 1074,485 783,331"/>
<polyline class="q" points="723,478 1215,284 1228,413 1044,384 1140,402 747,570 783,89 711,108 1004,106 766,495 918,343"/>
<polyline class="p" points="533,393 581,86 421,148 490,460"/>
<polyline class="p" points="349,369 186,302 415,154 586,87 546,272 579,455"/>
<polyline class="q" points="840,520 990,403 1012,530 890,103 774,297 688,169 1192,428 775,322 595,196"/>
<polyline class="q" points="823,410 668,556 891,248 704,100 637,492 816,183 1093,224 985,239 981,403 1110,195 807,142"/>
<polyline class="p" points="586,309 497,325 987,355 339,351"/>
<polyline class="p" points="472,446 476,397 631,415 194,301 1174,349 771,417 533,285 646,275 290,217 413,151"/>
<polyline class="q" points="1166,229 823,245 838,318 921,491 758,68"/>
<polyline class="q" points="916,459 938,538 716,129 891,364 1104,195 636,568 935,226 1069,210 800,367 1168,231"/>
<polyline class="p" points="727,306 617,403 561,230 389,329 429,426"/>
<polyline class="p" points="586,192 682,180 482,217 767,455 420,425 627,69"/>
<polyline class="q" points="863,273 609,203 819,139 1111,182 1180,217 853,58 1047,286 991,483 823,545"/>
<polyline class="q" points="767,297 753,580 731,472 834,512 886,301 770,584 1112,184 927,276"/>
<polyline class="p" points="718,308 340,364 219,369 483,496 321,294 725,410 550,489"/>
<polyline class="p" points="389,319 994,108 518,236 482,218 661,218"/>
<polyline class="q" points="652,140 760,203 761,523 938,423 778,343 618,511 558,159 1229,400 1259,262 763,38"/>
<polyline class="q" points="645,129 859,461 745,487 1232,319 684,533 880,83 1076,261 828,472"/>
<polyline class="p" points="578,135 466,396 415,305 571,243 457,232 561,118 217,292"/>
<polyline class="p" points="276,338 1041,453 411,256 519,421 509,499"/>
<polyline class="q" points="753,51 864,67 1066,216 704,481 1050,121 1043,382 1225,215 790,143 1061,147 1038,443"/>
<polyline class="q" points="1148,411 1125,472 766,590 756,43 669,157 955,447 990,196 869,256 932,284 648,135 1239,221"/>
<polyline class="p" points="379,345 337,168 438,234 359,373"/>
<polyline class="p" points="339,404 606,432 258,328 624,339 620,410 777,322"/>
<polyline class="q" points="861,476 1092,429 824,259 669,461 681,546 675,449 773,587 806,367 657,68"/>
<polyline class="q" points="768,163 681,536 1044,116 762,74 1093,455 829,529 1091,350 626,559 1058,139 623,563 982,469"/>
<polyline class="p" points="378,421 697,270 613,277 806,365"/>
<polyline class="p" points="371,425 648,311 537,279 178,315 616,264 231,391"/>
<polyline class="q" points="971,365 762,265 901,139 819,460 1105,197 907,439 959,384 1005,502 1092,456"/>
<polyline class="q" points="1195,214 1245,272 1255,264 767,77 1095,490 985,220 677,557 766,520 702,503 741,477"/>
<polyline class="p" points="321,177 311,270 470,157 700,239 425,240"/>
<polyline class="p" points="562,271 483,224 479,320 489,328 767,399"/>
<polyline class="q" points="858,453 1049,121 986,216 615,207 936,536 1117,363 866,68 1006,532 610,560 847,490"/>
<polyline class="q" points="776,294 866,69 886,300 1226,281 768,300 1073,132 760,74 763,235 1106,167"/>
<polyline class="p" points="617,254 231,390 605,434 229,385 501,504 683,328"/>
<polyline class="p" points="642,201 587,445 382,436 320,384 609,241 574,242"/>
<polyline class="q" points="983,267 862,185 815,137 821,259 1121,476 968,365 937,540 934,332 658,69"/>
<polyline class="q" points="695,514 936,303 1172,352 1002,204 672,459 1220,312 886,393 1010,405 975,464 1053,388"/>
<polyline class="p" points="310,320 475,312 926,336 177,318 878,252"/>
<polyline class="p" points="523,235 323,188 698,260 176,317 224,376 453,346 609,98"/>
<polyline class="q" points="661,151 890,316 762,505 1064,387 769,166 930,337 1066,206 632,108"/>
<polyline class="q" points="870,255 922,495 959,546 869,185 895,419 1084,419"/>
<polyline class="p" points="294,330 305,216 567,157 373,369 732,298 492,514 488,360 771,469 232,394"/>
<polyline class="p" points="409,305 347,355 1254,269 450,217"/>
<polyline class="q" points="679,70 865,461 997,299 933,332 878,328 800,97 1154,305 669,558 1230,217 706,104 1092,297"/>
<polyline class="q" points="1028,423 757,529 614,525 556,159 642,124 642,124 688,416 640,118"/>
<polyline class="p" points="631,303 312,264 309,322 655,276 422,244 530,425 561,270"/>
<polyline class="p" points="487,356 488,456 420,422 501,503 324,316 350,366 487,401 473,285"/>
<polyline class="q" points="807,569 908,446 604,77 1113,360 823,488 648,68 998,544"/>
<polyline class="q" points="883,90 773,306 994,109 921,495 856,476 786,594 888,203 1152,322 913,451 765,197"/>
<polyline class="p" points="339,389 228,384 393,256 529,491 773,416"/>
<polyline class="p" points="493,355 610,529 237,408 514,422 638,265 462,383"/>
<polyline class="q" points="760,209 846,176 699,182 858,524 824,492 929,279 713,484 817,139 556,161"/>
<polyline class="q" points="1064,235 856,474 1158,420 894,201 1145,408 767,178 1095,491 886,402 789,350 906,143 1127,372"/>
<polyline class="p" points="420,421 569,230 534,503 524,403"/>
<polyline class="p" points="352,345 723,311 180,299 420,295"/>
<polyline class="q" points="896,111 871,257 1095,352 1201,211 857,478 1107,173 844,55 833,318 762,278 687,170 920,494"/>
<polyline class="q" points="704,189 749,575 884,380 710,106 1110,192 777,314 979,469 837,523 971,370 767,81"/>
<polyline class="p" points="654,314 241,420 583,441 388,332 656,365"/>
<polyline class="p" points="389,363 353,358 591,293 198,341 203,295 377,335 469,408"/>
<polyline class="q" points="973,550 961,380 1244,227 654,142 1104,441 936,413 821,550 1076,341"/>
<polyline class="q" points="1163,348 637,111 770,34 640,121 614,549 984,169 1041,380 993,287 813,575 1100,447 757,533"/>
<polyline class="p" points="407,437 315,193 299,322 406,243"/>
<polyline class="p" points="334,362 197,293 765,399 474,467 413,147 485,504 312,283 476,379 1130,381"/>
<polyline class="q" points="829,117 1074,319 1101,272 1042,130 699,90 834,175"/>
<polyline class="q" points="1045,129 888,406 897,360 712,486 949,399 659,477 618,511 1041,382 1111,360"/>
<polyline class="p" points="322,177 785,342 692,100 343,424 615,99 588,345"/>
<polyline class="p" points="481,206 521,245 404,295 407,258 608,239"/>
<polyline class="q" points="734,472 891,408 671,551 983,361 756,246 562,118 814,216 607,555 832,118 795,144"/>
<polyline class="q" points="1114,363 643,127 990,214 732,476 1174,352 919,239 1167,260 966,545"/>
<polyline class="p" points="722,309 475,310 492,275 308,258 351,159 527,388 723,324"/>
<polyline class="p" points="707,119 471,388 635,308 176,311 432,225 379,432 469,221 677,233"/>
<polyline class="q" points="922,167 871,78 1160,344 1075,301 859,477 990,352 891,399"/>
<polyline class="q" points="1109,195 1107,488 1053,273 1083,344 795,361 731,479 824,248 913,154 680,163 765,533 1094,225"/>
<polyline class="p" points="530,406 415,431 637,267 309,186"/>
<polyline class="p" points="486,197 199,345 193,300 469,400 767,419 506,353"/>
<polyline class="q" points="896,115 1065,211 613,529 1106,492 1079,158 1072,261 1073,137 817,283 676,162"/>
<polyline class="q" points="910,451 609,549 930,329 854,450 868,184 999,111 941,404 820,460 798,359 1081,344 870,537 646,490"/>
<polyline class="p" points="407,297 596,241 1037,437"/>
<polyline class="p" points="301,231 393,366 321,302 405,262 332,180 485,382 598,244"/>
<polyline class="q" points="924,174 818,271 768,460 1296,378 868,443 1030,112 624,185 1053,388"/>
<polyline class="q" points="890,200 723,296 569,132 918,204 1084,325 624,71 765,286 885,375 601,539 1045,288"/>
<polyline class="p" points="597,362 407,432 684,242 766,425 495,471"/>
<polyline class="p" points="231,388 1031,437 362,372 473,492 499,506 492,194 564,383 393,388 371,425 659,345"/>
<polyline class="q" points="1081,330 809,195 1099,153 836,513 720,357"/>
<polyline class="q" points="1072,275 917,462 937,305 1004,318 1294,354 763,494 931,330 925,339 1156,420 1234,277 1227,219"/>
<polyline class="p" points="594,357 664,361 762,432 632,323"/>
<polyline class="p" points="440,410 571,266 646,390 346,165 198,297 313,312 196,342 338,167"/>
<polyline class="q" points="697,182 827,400 561,130 1255,229 834,44 853,181 1218,284"/>
<polyline class="q" points="712,361 1242,223 1169,348 896,424 1093,457 795,140 941,540 794,142 1110,192"/>
<polyline class="p" points="169,316 243,309 470,496 354,159 824,304 487,189"/>
<polyline class="p" points="501,240 605,177 324,377 589,298 464,478"/>
<polyline class="q" points="818,402 1156,419 1003,494 1008,503 1104,197 922,273 1131,389 697,73 915,158 772,157"/>
<polyline class="q" points="836,520 818,552 920,491 1007,325 883,91 1172,221 576,98 684,70 637,196 1097,353"/>
<polyline class="p" points="697,280 373,346 416,233 488,397 765,268"/>
<polyline class="p" points="721,310 480,320 676,334 299,263 507,433 680,324 629,242 459,491 837,319"/>
<polyline class="q" points="1080,488 637,558 638,491 1161,345 1201,363 978,117"/>
<polyline class="q" points="988,186 761,239 1030,364 920,492 686,429 983,467 715,352 774,306 707,367"/>
<polyline class="p" points="312,325 416,241 458,343 535,393 467,476 462,213"/>
<polyline class="p" points="413,268 407,303 674,226 643,321 415,291 644,372 489,505 327,400 655,300"/>
<polyline class="q" points="974,138 829,481 832,230 626,70 975,545 762,189"/>
<polyline class="q" points="740,475 1101,202 1226,411 751,545 914,457 1077,299 1097,287 892,402 896,118 1029,429"/>
<polyline class="p" points="658,361 586,452 481,454 319,308 526,235"/>
<polyline class="p" points="514,438 345,173 709,255 458,225 406,254"/>
<polyline class="q" points="927,278 764,173 1054,122 976,142 630,504 859,184 861,184 983,224 1187,354 1258,234"/>
<polyline class="q" points="1256,238 822,290 816,140 1053,472 898,121 1070,383 917,200 647,133 980,357 1150,321 692,510 1073,272"/>
<polyline class="p" points="486,452 718,309 536,421"/>
<polyline class="p" points="556,270 640,147 339,178 457,231 321,288 635,302 494,387"/>
<polyline class="q" points="838,232 796,585 636,504 739,478 1094,349 1009,509 878,334 757,531"/>
<polyline class="q" points="750,568 1153,328 986,161 1149,308 1072,395 892,402 717,357 873,291 1052,269"/>
<polyline class="p" points="414,273 401,424 482,261 341,174 596,79 175,312"/>
<polyline class="p" points="634,278 404,255 483,317"/>
<polyline class="q" points="1215,285 605,532 753,61 880,294 839,124 977,403 915,201 903,357 1002,208 1247,325 1225,413 692,529"/>
<polyline class="q" points="878,83 1295,357 1124,373 1067,234 663,559 714,368"/>
<polyline class="p" points="566,234 578,454 536,407 406,393 557,371 538,281 319,318 768,457 478,381"/>
<polyline class="p" points="584,274 485,510 390,315 413,271 574,102 362,419 687,231 387,396 256,325 566,111"/>
<polyline class="q" points="1121,368 772,154 676,453 787,345 769,300"/>
<polyline class="q" points="1097,212 909,243 1245,227 676,69 660,475 756,490 1225,391 778,338 817,215"/>
<polyline class="p" points="356,168 726,404 392,154 573,372 492,159 483,379"/>
<polyline class="p" points="764,457 343,368 722,139 371,336 660,168 605,241"/>
<polyline class="q" points="704,490 1027,423 1035,435 1092,347 823,488 1069,154 1212,374 987,546 941,403"/>
<polyline class="q" points="917,204 880,86 1122,480 623,514 645,126 950,546 1044,459 931,230"/>
<polyline class="p" points="420,239 482,403 490,513 561,234 634,271 346,367 197,297"/>
<polyline class="p" points="558,365 470,396 677,320 333,386 510,439 391,364"/>
<polyline class="q" points="886,375 1133,389 884,321 824,496 617,522 801,369 770,593 1081,489 864,278"/>
<polyline class="q" points="767,589 686,537 779,309 759,247 720,156 682,431 666,468 1006,499 889,364 820,276"/>
<polyline class="p" points="562,134 607,343 584,279 387,341 471,340"/>
<polyline class="p" points="563,159 938,307 464,496 542,246"/>
<polyline class="q" points="1257,332 763,207 1260,235 1102,273 641,123 904,134 857,525 822,183 1154,417 924,518 1177,270"/>
<polyline class="q" points="762,231 1165,297 753,249 1178,425 1145,408 1094,286 873,538 974,400 890,252"/>
<polyline class="p" points="983,358 681,177 375,372 361,160 558,271 696,263"/>
<polyline class="p" points="761,529 587,272 722,305 259,327 611,417 527,239"/>
<polyline class="q" points="975,465 982,401 652,562 771,82 738,476 1074,255 1031,364 609,77 1110,179"/>
<polyline class="q" points="1055,472 836,180 1155,415 732,480 632,558 766,171 890,404 1284,344 1110,486"/>
<polyline class="p" points="473,489 610,349 289,229 412,270 416,314 621,261"/>
<polyline class="p" points="413,291 689,528 618,281 299,245 446,236 635,274 319,391"/>
<polyline class="q" points="758,529 760,583 905,143 568,107 902,134 680,166 772,158 639,563"/>
<polyline class="q" points="829,486 820,278 1007,333 766,588 726,320 988,227 760,235 998,217 885,319"/>
<polyline class="p" points="710,246 704,244 759,530 618,335 639,114 479,459"/>
<polyline class="p" points="580,157 640,388 516,445 490,450 197,345 495,246 586,439 306,189"/>
<polyline class="q" points="781,341 1262,258 1223,413 1085,316 1081,343 1213,373 1223,285"/>
<polyline class="q" points="814,561 677,452 1078,159 758,254 1226,394 919,343 1164,246 642,200"/>
<polyline class="p" points="340,379 502,273 377,368 487,514 826,551 514,472 730,391"/>
<polyline class="p" points="318,296 781,478 616,247 439,224 404,314 434,225"/>
<polyline class="q" points="1261,332 1066,236 599,535 676,444 995,483 1227,282 1280,345 988,478 1000,296"/>
<polyline class="q" points="987,180 1065,226 948,440 760,270 943,405 1172,293 914,200"/>
<polyline class="p" points="649,263 672,225 409,153 516,240 592,242 453,234 691,235 757,241"/>
<polyline class="p" points="323,370 481,272 582,354 478,260 367,344 336,356"/>
<polyline class="q" points="780,594 634,69 1011,406 754,249 749,560 1203,425 977,140 864,275 1201,286"/>
<polyline class="q" points="607,76 909,203 1062,128 990,193 891,253 1227,395 760,269 1151,321 777,30"/>
<polyline class="p" points="438,222 586,353 476,218 401,309 763,392 485,329"/>
<polyline class="p" points="555,385 471,290 803,365 341,405 533,246 372,423 331,175"/>
<polyline class="q" points="1003,535 813,560 892,404 1125,461 992,287 610,556 983,229 925,512"/>
<polyline class="q" points="896,249 909,206 830,483 914,463 1142,402 1066,218 981,156 907,145 1072,136 832,534"/>
<polyline class="p" points="482,401 603,258 404,150 538,413 503,251"/>
<polyline class="p" points="481,208 669,344 332,381 640,306 338,166 488,324 561,390"/>
<polyline class="q" points="889,407 979,466 775,295 999,340 822,246 1031,375 984,262 863,458"/>
<polyline class="q" points="1163,344 791,142 812,210 770,417 825,241 920,167 1090,306 1155,301 919,479 1106,196 1236,223"/>
<polyline class="p" points="587,299 986,354 750,386 366,165"/>
<polyline class="p" points="700,268 500,170 631,267 400,379 658,289 778,86 229,384"/>
<polyline class="q" points="827,234 1013,520 1259,331 977,117 1163,232 918,238 991,475 1133,386"/>
<polyline class="q" points="800,141 1050,272 818,383 614,513 961,403 815,218 804,369 971,120 676,450"/>
<polyline class="p" points="493,303 403,257 540,233 576,92 621,402 312,280"/>
<polyline class="p" points="590,245 573,105 655,313"/>
<polyline class="q" points="953,543 975,548 1119,367 602,535 1051,272 984,236 866,185 765,274 833,520 1087,143 744,484 966,403"/>
<polyline class="q" points="933,283 1059,142 1064,220 976,119 1073,256 817,559 988,169 1187,429 776,31 819,275"/>
<polyline class="p" points="191,337 536,495 619,405 814,449 655,313"/>
<polyline class="p" points="704,250 679,176 640,298 327,387 329,419 379,345 379,431 403,333"/>
<polyline class="q" points="1053,259 1163,345 830,485 667,469 890,408 869,258 612,560"/>
<polyline class="q" points="795,583 761,75 989,182 927,516 981,158 1240,225 900,431 926,174 764,532"/>
<polyline class="p" points="571,454 776,469 817,212 215,362 577,457 497,446"/>
<polyline class="p" points="481,193 240,420 609,284 650,374"/>
<polyline class="q" points="989,198 1037,449 884,368 833,531 672,553 638,112 769,32 1050,389 865,186 841,55 936,300"/>
<polyline class="q" points="402,333 1030,424 1009,405 591,84 807,578 1090,295 987,212 843,179"/>
<polyline class="p" points="466,466 571,456 516,479 578,316 663,222 381,430 720,308"/>
<polyline class="p" points="406,150 595,454 358,162"/>
<polyline class="q" points="726,476 625,561 1281,341 1090,294 995,111 923,171 697,81 971,127 859,530 831,488 818,405 1047,385"/>
<polyline class="q" points="1277,342 849,60 989,191 1071,270 1289,350 1110,357 991,349 616,557 704,182"/>
<polyline class="p" points="978,467 412,294 221,368 607,429 686,231 328,304"/>
<polyline class="p" points="176,313 528,239 409,253 588,352 489,276 645,313 547,232 551,485 401,264 583,310"/>
<polyline class="q" points="755,42 811,185 1156,335 827,481 1112,359"/>
<polyline class="q" points="972,404 1217,423 1069,386 765,37 699,184 614,562"/>
<polyline class="p" points="602,247 547,241 390,333 508,514 404,406 496,311 484,405 919,491 707,264"/>
<polyline class="p" points="487,446 611,97 361,152 488,388 225,377 346,420 982,357 769,406"/>
<polyline class="q" points="1153,332 784,342 657,147 775,307 992,287 819,281 1162,242"/>
<polyline class="q" points="1070,202 780,329 887,311 1225,282 978,254 860,66 818,183 973,139 705,484"/>
<polyline class="p" points="330,392 766,398 436,420 495,326 399,395 338,358"/>
<polyline class="p" points="455,231 479,464 454,408 487,447 413,291 405,288 411,425 421,236 763,455 607,351"/>
<polyline class="q" points="782,593 1004,172 1104,443 979,469 1109,166"/>
<polyline class="q" points="923,171 1096,489 766,504 817,138 1061,144"/>
<polyline class="p" points="473,504 454,230 382,148 482,152 332,359 605,336 330,180 381,147 596,432 547,484"/>
<polyline class="p" points="765,428 618,339 820,284 473,464"/>
<polyline class="q" points="681,165 1030,424 1086,314 761,204 886,317 947,438 1161,246 691,173 830,485 847,496 1072,279"/>
<polyline class="q" points="719,135 1086,315 820,438 883,328 1099,452 818,405 922,498 805,138 1248,226 534,500 885,382 948,403 838,318 824,546"/>
<polyline class="p" points="199,343 199,343"/>
<polyline class="p" points="507,252 429,415 356,341"/>
<polyline class="q" points="1179,219 984,357 752,44 960,387 1098,156 914,459 764,178 838,121 1140,403 914,466 647,558 1005,405"/>
<polyline class="q" points="643,495 1048,387 771,298 1193,355 981,114 851,333 883,327 763,494 1167,252 830,517"/>
<polyline class="p" points="481,294 195,341 459,486 452,226 482,370"/>
<polyline class="p" points="326,186 367,342 328,389 498,177"/>
<polyline class="q" points="857,180 873,252 763,264 897,248 759,530 817,435 812,203 1028,427 813,101 1219,282 611,562"/>
<polyline class="q" points="1218,282 824,460 761,71 1118,365 829,516 820,261 1044,284 762,533"/>
<polyline class="p" points="763,393 231,387 421,236 705,273 462,414 300,245 645,371"/>
<polyline class="p" points="409,300 399,432 479,201 392,371 723,406 197,341"/>
<polyline class="q" points="824,239 887,364 976,548 811,193 1157,421 961,547 1229,398 821,550 1142,405"/>
<polyline class="q" points="717,126 927,196 829,312 717,356 856,182 795,357 1058,122 781,150 713,364 758,71 868,336"/>
<polyline class="p" points="550,483 705,265 179,319 386,379"/>
<polyline class="p" points="296,224 294,253 515,238 486,307 573,95 704,247 485,264"/>
<polyline class="q" points="819,221 1005,536 1253,329 675,227 685,528 1297,364 918,490 1035,380"/>
<polyline class="q" points="769,80 992,280 1084,326 848,497 782,317 707,490 780,320 1071,272 755,489 672,158 824,463"/>
<polyline class="p" points="629,284 722,301 518,501 597,342"/>
<polyline class="p" points="698,244 559,126 491,385 715,116 1014,525 300,230 441,141 394,362"/>
<polyline class="q" points="1089,306 1075,312 989,199 1251,270 619,183 831,530 838,527"/>
<polyline class="q" points="865,183 1224,281 684,539 1088,310 1168,262 831,131 1054,296 1101,203 1074,268"/>
<polyline class="p" points="611,516 776,465 318,288 532,500 478,282 297,334"/>
<polyline class="p" points="510,240 989,350 576,154 381,427 542,399 572,449"/>
<polyline class="q" points="630,70 768,298 935,537 1005,340 765,169 1091,303 1073,272 1144,408 567,190"/>
<polyline class="q" points="1228,217 1247,224 793,350 857,63 559,161 888,205 829,531 761,273 864,448"/>
<polyline class="p" points="390,359 240,413 632,283 499,373 698,273 618,337"/>
<polyline class="p" points="375,335 477,374 641,370 427,417 701,182 989,351 356,350 423,227 461,495"/>
<polyline class="q" points="979,400 835,178 675,546 760,498 814,108 1082,342"/>
<polyline class="q" points="932,329 770,84 823,109 846,176 1295,362 662,153 1062,481 933,330 1106,489 987,478 886,316 937,420"/>
<polyline class="p" points="302,272 381,428 672,231"/>
<polyline class="p" points="465,386 342,413 580,366 634,313"/>
<polyline class="q" points="1103,160 981,153 825,300 604,76 567,191 825,402 1051,474 875,83 813,215 973,122 1215,378"/>
<polyline class="q" points="1233,319 1142,406 998,349 697,518 1006,328 714,114 905,132 1164,232 980,549"/>
<polyline class="p" points="599,250 657,303 386,316 602,539 563,382 485,446"/>
<polyline class="p" points="658,342 196,340 468,207 352,345 656,287 229,382 371,376"/>
<polyline class="q" points="982,256 675,547 1160,246 1019,113 761,533 1002,342 1074,300 798,99"/>
<polyline class="q" points="1002,405 687,414 1072,254 639,111 846,181 609,76"/>
<polyline class="p" points="477,291 624,403 525,508 686,234 529,408 400,432 305,219 764,182 772,412"/>
<polyline class="p" points="663,167 571,361 417,396 607,351 403,285 724,403"/>
<polyline class="q" points="889,102 1097,454 983,546 671,463 1002,309 913,458 760,507 948,402 1035,440"/>
<polyline class="q" points="997,291 1113,484 765,275 987,112 773,505 717,119 907,247 753,569"/>
<polyline class="p" points="408,298 588,277 655,278 678,233 488,306 426,225 486,317"/>
<polyline class="p" points="489,182 451,220 489,262 192,337 403,388 307,246"/>
<polyline class="q" points="781,332 953,396 998,543 964,383 952,547 722,476 1194,361 654,481 1056,256"/>
<polyline class="q" points="817,379 692,527 813,209 694,70 925,274 755,54 754,579 689,517 820,288 763,234"/>
<polyline class="p" points="327,381 524,433 577,376 518,254 624,422"/>
<polyline class="p" points="420,400 634,412 549,487 323,285 590,235"/>
<polyline class="q" points="1094,223 610,532 1202,425 803,366 906,434 1007,404 990,188 1229,394 1006,313 1076,308"/>
<polyline class="q" points="866,451 769,503 985,353 1067,148 672,460 787,144"/>
<polyline class="p" points="516,420 186,302 767,403 408,268 327,176 593,435 350,163 298,235 754,576"/>
<polyline class="p" points="375,329 397,324 516,250 389,381 578,445 980,363"/>
<polyline class="q" points="707,104 727,336 1053,263 923,173 765,170 817,564 614,552 1096,353 821,181"/>
<polyline class="q" points="824,555 1085,345 760,251 964,386 939,430 984,109 819,278 919,489"/>
<polyline class="p" points="581,370 988,351 658,283 416,428 513,471 297,233 472,153"/>
<polyline class="p" points="668,344 642,372 405,302 445,222"/>
<polyline class="q" points="1295,364 817,216 1064,228 705,109 695,79 1086,144 975,118 918,203 1086,142 1170,226 1055,476"/>
<polyline class="q" points="761,534 795,359 1068,236 605,532 839,123 933,225 1238,278"/>
<polyline class="p" points="706,122 528,424 478,151 569,361 725,297 419,399 1048,122 472,266"/>
<polyline class="p" points="364,351 312,311 405,319 274,339 523,435 232,396"/>
<polyline class="q" points="1007,510 778,331 1141,399 1096,453 630,499 709,364 982,468 1235,276 814,107"/>
<polyline class="q" points="1006,107 1240,273 1074,271 568,109 1153,304 825,245 1223,419 677,553 829,228 1170,350 618,553"/>
<polyline class="p" points="470,460 565,466 683,233 421,235"/>
<polyline class="p" points="482,454 529,411 333,403 756,393 498,313 404,277 495,498"/>
<polyline class="q" points="757,235 945,406 619,71 1040,383 1094,225 622,509 1165,253 890,105"/>
<polyline class="q" points="897,124 671,226 1077,155 1061,142 728,303 706,365 932,329 838,497"/>
<polyline class="p" points="223,376 458,220 433,417 379,343 549,489 372,375 336,360"/>
<polyline class="p" points="616,344 495,472 499,355"/>
<polyline class="q" points="1017,111 1088,346 1262,256 918,467 1108,356 688,518 1005,166 1163,346 710,373 616,556 1008,531 678,549"/>
<polyline class="q" points="1032,359 1162,345 709,106 939,411 1012,526 1114,181 965,376 766,221 912,241 938,299"/>
<polyline class="p" points="1106,170 703,265 489,160 491,253 662,353"/>
<polyline class="p" points="393,381 469,462 764,455 466,462"/>
<polyline class="q" points="892,407 1098,213 764,504 882,317 1111,487 1104,491 859,266 770,287 805,367 1181,221 980,358"/>
<polyline class="q" points="690,525 821,248 615,559 912,243 827,228 959,389 855,182 1001,160 765,170 1222,283"/>
<polyline class="p" points="411,282 402,407 596,345 564,117 608,417"/>
<polyline class="p" points="764,449 516,246 589,160 400,379 488,448 405,291 207,352 311,190 427,232 368,425 325,302 457,229 588,302"/>
<polyline class="q" points="1003,181 1221,217"/>
<polyline class="q" points="811,374 1235,320 682,427 748,563 820,279 858,331 626,185 902,139"/>
<polyline class="p" points="331,358 332,413 557,268 203,292 482,161 326,283 322,282"/>
<polyline class="p" points="556,273 613,247 704,274 472,156 384,301 428,235 514,467 504,241"/>
<polyline class="q" points="1297,358 761,237 988,175 636,196 1074,403 899,116 934,330"/>
<polyline class="q" points="860,182 762,219 860,449 752,55 726,208 726,217 684,255"/>
<polyline class="p" points="574,98 413,324 311,283 591,167 363,337 467,466 327,383 515,424"/>
<polyline class="p" points="753,64 839,124 822,252 967,128 1007,339 984,356 994,350 1105,265 1125,369 1132,386 1165,349 1160,238 1182,356 1310,379"/>
</g></g>
<g filter="url(#nf)">
<rect x="55.4" y="17.4" width="628.2" height="310.8" fill="none" stroke="#727272" stroke-width="1.8"/><text class="tk" x="100.4" y="345.0" text-anchor="middle" textLength="22.5" lengthAdjust="spacingAndGlyphs">−75</text><text class="tk" x="186.4" y="345.0" text-anchor="middle" textLength="22.5" lengthAdjust="spacingAndGlyphs">−50</text><text class="tk" x="272.4" y="345.0" text-anchor="middle" textLength="22.5" lengthAdjust="spacingAndGlyphs">−25</text><text class="tk" x="358.4" y="345.0" text-anchor="middle" textLength="6.4" lengthAdjust="spacingAndGlyphs">0</text><text class="tk" x="444.4" y="345.0" text-anchor="middle" textLength="13.4" lengthAdjust="spacingAndGlyphs">25</text><text class="tk" x="530.4" y="345.0" text-anchor="middle" textLength="13.4" lengthAdjust="spacingAndGlyphs">50</text><text class="tk" x="616.4" y="345.0" text-anchor="middle" textLength="13.4" lengthAdjust="spacingAndGlyphs">75</text><text class="tk" x="47.4" y="35.3" text-anchor="end" textLength="13.4" lengthAdjust="spacingAndGlyphs">80</text><text class="tk" x="47.4" y="71.5" text-anchor="end" textLength="13.4" lengthAdjust="spacingAndGlyphs">60</text><text class="tk" x="47.4" y="107.6" text-anchor="end" textLength="13.4" lengthAdjust="spacingAndGlyphs">40</text><text class="tk" x="47.4" y="143.8" text-anchor="end" textLength="13.4" lengthAdjust="spacingAndGlyphs">20</text><text class="tk" x="47.4" y="180.0" text-anchor="end" textLength="6.4" lengthAdjust="spacingAndGlyphs">0</text><text class="tk" x="47.4" y="216.2" text-anchor="end" textLength="22.5" lengthAdjust="spacingAndGlyphs">−20</text><text class="tk" x="47.4" y="252.4" text-anchor="end" textLength="22.5" lengthAdjust="spacingAndGlyphs">−40</text><text class="tk" x="47.4" y="288.5" text-anchor="end" textLength="22.5" lengthAdjust="spacingAndGlyphs">−60</text><text class="tk" x="47.4" y="324.7" text-anchor="end" textLength="22.5" lengthAdjust="spacingAndGlyphs">−80</text><path d="M100.4 328.2v4M186.4 328.2v4M272.4 328.2v4M358.4 328.2v4M444.4 328.2v4M530.4 328.2v4M616.4 328.2v4M55.4 31.2h-4M55.4 67.4h-4M55.4 103.5h-4M55.4 139.7h-4M55.4 175.9h-4M55.4 212.1h-4M55.4 248.3h-4M55.4 284.4h-4M55.4 320.6h-4" stroke="#666" stroke-width="1.2" fill="none"/><text class="tt" x="253.3" y="9.9" textLength="231.5" lengthAdjust="spacingAndGlyphs">t-SNE Visualization for lstm_layer1</text><text class="lb" x="336.2" y="360.4" textLength="66.6" lengthAdjust="spacingAndGlyphs">tsne-2d-one</text><text class="lb" transform="translate(17.8 206.7) rotate(-90)" textLength="66.4" lengthAdjust="spacingAndGlyphs">tsne-2d-two</text><rect x="610.5" y="23.3" width="67.1" height="53.1" rx="2.2" fill="#fff" fill-opacity=".8" stroke="#d0d0d0" stroke-width="1"/><text class="tk" x="615.3" y="36.3" textLength="57.8" lengthAdjust="spacingAndGlyphs">attack_cat</text><circle cx="636" cy="50.1" style="r:3.7px" fill="#1f77b4"/><circle cx="636" cy="66.4" style="r:3.7px" fill="#ff7f0e"/><text class="tk" x="659.8" y="52.7" text-anchor="middle">0</text><text class="tk" x="659.8" y="68.9" text-anchor="middle">1</text>
<rect x="55.4" y="485.1" width="628.2" height="311.1" fill="none" stroke="#727272" stroke-width="1.8"/><text class="tk" x="149.5" y="813.0" text-anchor="middle" textLength="29.5" lengthAdjust="spacingAndGlyphs">−100</text><text class="tk" x="258.3" y="813.0" text-anchor="middle" textLength="22.5" lengthAdjust="spacingAndGlyphs">−50</text><text class="tk" x="367.2" y="813.0" text-anchor="middle" textLength="6.4" lengthAdjust="spacingAndGlyphs">0</text><text class="tk" x="476.1" y="813.0" text-anchor="middle" textLength="13.4" lengthAdjust="spacingAndGlyphs">50</text><text class="tk" x="584.9" y="813.0" text-anchor="middle" textLength="20.4" lengthAdjust="spacingAndGlyphs">100</text><text class="tk" x="47.4" y="530.3" text-anchor="end" textLength="20.4" lengthAdjust="spacingAndGlyphs">100</text><text class="tk" x="47.4" y="589.5" text-anchor="end" textLength="13.4" lengthAdjust="spacingAndGlyphs">50</text><text class="tk" x="47.4" y="648.7" text-anchor="end" textLength="6.4" lengthAdjust="spacingAndGlyphs">0</text><text class="tk" x="47.4" y="707.9" text-anchor="end" textLength="22.5" lengthAdjust="spacingAndGlyphs">−50</text><text class="tk" x="47.4" y="767.1" text-anchor="end" textLength="29.5" lengthAdjust="spacingAndGlyphs">−100</text><path d="M149.5 796.2v4M258.3 796.2v4M367.2 796.2v4M476.1 796.2v4M584.9 796.2v4M55.4 526.2h-4M55.4 585.4h-4M55.4 644.6h-4M55.4 703.8h-4M55.4 763.0h-4" stroke="#666" stroke-width="1.2" fill="none"/><text class="tt" x="286.0" y="478.1" textLength="166.5" lengthAdjust="spacingAndGlyphs">t-SNE Visualization for fc</text><text class="lb" x="336.2" y="828.4" textLength="66.6" lengthAdjust="spacingAndGlyphs">tsne-2d-one</text><text class="lb" transform="translate(11.3 674.6) rotate(-90)" textLength="66.4" lengthAdjust="spacingAndGlyphs">tsne-2d-two</text><rect x="610.5" y="491.0" width="67.1" height="53.1" rx="2.2" fill="#fff" fill-opacity=".8" stroke="#d0d0d0" stroke-width="1"/><text class="tk" x="615.3" y="504.0" textLength="57.8" lengthAdjust="spacingAndGlyphs">attack_cat</text><circle cx="636" cy="517.8" style="r:3.7px" fill="#1f77b4"/><circle cx="636" cy="534.1" style="r:3.7px" fill="#ff7f0e"/><text class="tk" x="659.8" y="520.4" text-anchor="middle">0</text><text class="tk" x="659.8" y="536.6" text-anchor="middle">1</text>
<text class="cap" x="359.6" y="414.3" text-anchor="middle">(a)</text>
<text class="cap" x="360" y="882.6" text-anchor="middle">(b)</text>
</g>
</svg>
</body></html>
